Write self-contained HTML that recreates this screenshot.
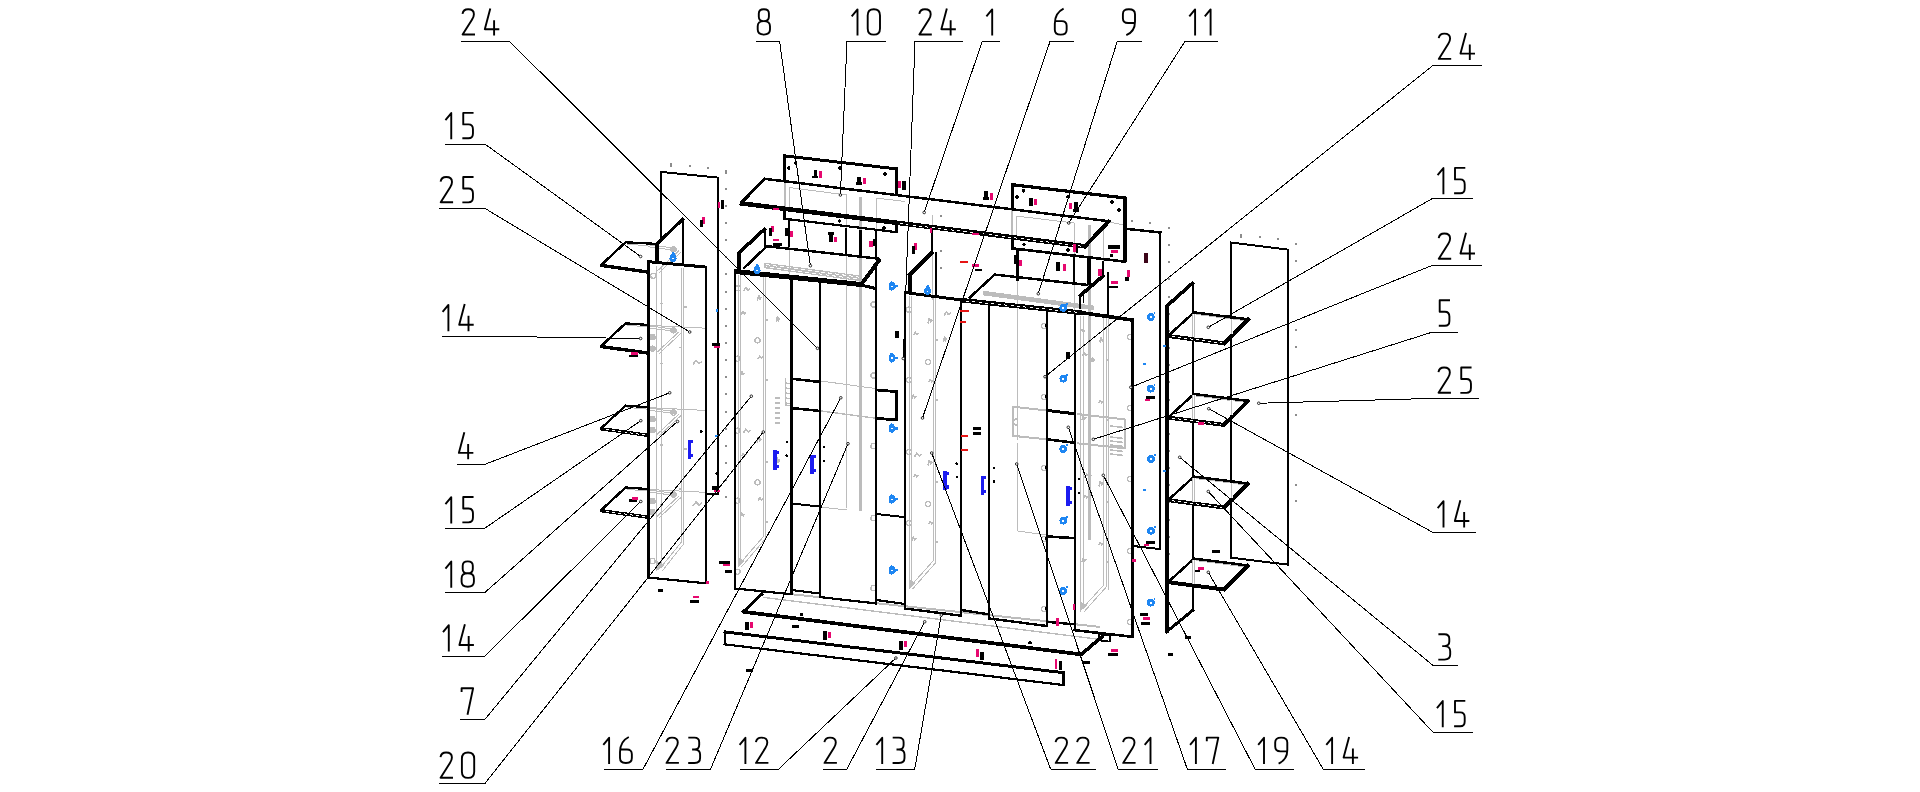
<!DOCTYPE html><html><head><meta charset="utf-8"><title>Exploded view</title>
<style>html,body{margin:0;padding:0;background:#fff;font-family:"Liberation Sans",sans-serif}svg{display:block}</style></head><body>
<svg width="1920" height="792" viewBox="0 0 1920 792" fill="none">
<rect width="1920" height="792" fill="#fff"/>
<g id="grey" shape-rendering="crispEdges">
<path d="M764,265.4L862,278.6" stroke="#bcbcbc" stroke-width="5.6" stroke-linecap="butt"/>
<path d="M766,264.6L862,277.5" stroke="#fff" stroke-width="1" stroke-linecap="butt" stroke-dasharray="4 3"/>
<path d="M766,266.8L862,279.7" stroke="#fff" stroke-width="1" stroke-linecap="butt" stroke-dasharray="4 3" stroke-dashoffset="3"/>
<path d="M983,293L1094,308" stroke="#bcbcbc" stroke-width="4.6" stroke-linecap="butt"/>
<path d="M860.4,197L860.4,511" stroke="#bcbcbc" stroke-width="3" stroke-linecap="butt"/>
<path d="M1089.6,225L1089.6,540" stroke="#bcbcbc" stroke-width="3" stroke-linecap="butt"/>
<path d="M846.7,195L846.7,508" stroke="#bcbcbc" stroke-width="1" stroke-linecap="butt"/>
<path d="M785,180L785,208" stroke="#bcbcbc" stroke-width="1.6" stroke-linecap="butt"/>
<path d="M789,187.5L846.7,195" stroke="#bcbcbc" stroke-width="1" stroke-linecap="butt"/>
<path d="M789,187.5L789,207" stroke="#bcbcbc" stroke-width="1" stroke-linecap="butt"/>
<path d="M876,198L876,232" stroke="#bcbcbc" stroke-width="1" stroke-linecap="butt"/>
<path d="M876,198L905,201.5" stroke="#bcbcbc" stroke-width="1" stroke-linecap="butt"/>
<path d="M1012.2,209L1012.2,237" stroke="#bcbcbc" stroke-width="1.6" stroke-linecap="butt"/>
<path d="M1016,216L1074,223" stroke="#bcbcbc" stroke-width="1" stroke-linecap="butt"/>
<path d="M1016,216L1016,236" stroke="#bcbcbc" stroke-width="1" stroke-linecap="butt"/>
<path d="M1074.2,223L1074.2,255" stroke="#bcbcbc" stroke-width="1" stroke-linecap="butt"/>
<path d="M1103.75,224L1103.75,261" stroke="#bcbcbc" stroke-width="1" stroke-linecap="butt"/>
<path d="M1108,222L1125,225" stroke="#bcbcbc" stroke-width="1" stroke-linecap="butt"/>
<path d="M932.5,215L932.5,300" stroke="#bcbcbc" stroke-width="1" stroke-linecap="butt"/>
<path d="M656.7,266L656.7,571" stroke="#bcbcbc" stroke-width="1" stroke-linecap="butt"/>
<path d="M661.2,266L661.2,568" stroke="#bcbcbc" stroke-width="1" stroke-linecap="butt"/>
<path d="M681.7,268L681.7,541.7" stroke="#bcbcbc" stroke-width="1" stroke-linecap="butt"/>
<path d="M683.8,268L683.8,543.7" stroke="#bcbcbc" stroke-width="1" stroke-linecap="butt"/>
<path d="M681.7,541.7L661.2,567" stroke="#bcbcbc" stroke-width="1" stroke-linecap="butt"/>
<path d="M683.8,543.7L662.2,571" stroke="#bcbcbc" stroke-width="1" stroke-linecap="butt"/>
<path d="M656.7,561L665.2,565L656.7,571Z" fill="#bcbcbc"/>
<path d="M738.3,275L738.3,567" stroke="#bcbcbc" stroke-width="1" stroke-linecap="butt"/>
<path d="M740.4,275L740.4,564" stroke="#bcbcbc" stroke-width="1" stroke-linecap="butt"/>
<path d="M763.3,277L763.3,536.7" stroke="#bcbcbc" stroke-width="1" stroke-linecap="butt"/>
<path d="M765.4,277L765.4,538.7" stroke="#bcbcbc" stroke-width="1" stroke-linecap="butt"/>
<path d="M763.3,536.7L740.4,563" stroke="#bcbcbc" stroke-width="1" stroke-linecap="butt"/>
<path d="M765.4,538.7L741.4,567" stroke="#bcbcbc" stroke-width="1" stroke-linecap="butt"/>
<path d="M738.3,557L744.4,561L738.3,567Z" fill="#bcbcbc"/>
<path d="M909.4,296L909.4,589" stroke="#bcbcbc" stroke-width="1" stroke-linecap="butt"/>
<path d="M911.6,296L911.6,586" stroke="#bcbcbc" stroke-width="1" stroke-linecap="butt"/>
<path d="M933,298L933,561" stroke="#bcbcbc" stroke-width="1" stroke-linecap="butt"/>
<path d="M935.4,298L935.4,563" stroke="#bcbcbc" stroke-width="1" stroke-linecap="butt"/>
<path d="M933,561L911.6,585" stroke="#bcbcbc" stroke-width="1" stroke-linecap="butt"/>
<path d="M935.4,563L912.6,589" stroke="#bcbcbc" stroke-width="1" stroke-linecap="butt"/>
<path d="M909.4,579L915.6,583L909.4,589Z" fill="#bcbcbc"/>
<path d="M1080,316L1080,611.5" stroke="#bcbcbc" stroke-width="1" stroke-linecap="butt"/>
<path d="M1083.3,316L1083.3,608.5" stroke="#bcbcbc" stroke-width="1" stroke-linecap="butt"/>
<path d="M1103.75,318L1103.75,585" stroke="#bcbcbc" stroke-width="1" stroke-linecap="butt"/>
<path d="M1106.25,318L1106.25,587" stroke="#bcbcbc" stroke-width="1" stroke-linecap="butt"/>
<path d="M1103.75,585L1083.3,607.5" stroke="#bcbcbc" stroke-width="1" stroke-linecap="butt"/>
<path d="M1106.25,587L1084.3,611.5" stroke="#bcbcbc" stroke-width="1" stroke-linecap="butt"/>
<path d="M1080,601.5L1087.3,605.5L1080,611.5Z" fill="#bcbcbc"/>
<path d="M1017.5,281L1017.5,440" stroke="#bcbcbc" stroke-width="1" stroke-linecap="butt"/>
<path d="M1012.5,406.7L1046,410.4" stroke="#bcbcbc" stroke-width="2" stroke-linecap="butt"/>
<path d="M1012.8,406L1012.8,436.6" stroke="#bcbcbc" stroke-width="2" stroke-linecap="butt"/>
<path d="M1012.5,435.8L1046,439.2" stroke="#bcbcbc" stroke-width="2" stroke-linecap="butt"/>
<path d="M1014,420L1018,418" stroke="#bcbcbc" stroke-width="1.4" stroke-linecap="butt"/>
<path d="M1014,424L1018,426" stroke="#bcbcbc" stroke-width="1.4" stroke-linecap="butt"/>
<path d="M1017.5,443L1017.5,531" stroke="#bcbcbc" stroke-width="1" stroke-linecap="butt"/>
<path d="M1017.5,531L1046,535" stroke="#bcbcbc" stroke-width="1" stroke-linecap="butt"/>
<path d="M820.5,507L846.7,510" stroke="#bcbcbc" stroke-width="1" stroke-linecap="butt"/>
<path d="M1077,414L1125,419.4" stroke="#bcbcbc" stroke-width="2" stroke-linecap="butt"/>
<path d="M1124.6,418.6L1124.6,449" stroke="#bcbcbc" stroke-width="2" stroke-linecap="butt"/>
<path d="M1077,443.3L1125,448.3" stroke="#bcbcbc" stroke-width="2" stroke-linecap="butt"/>
<path d="M763,591.2L1100,626.9" stroke="#bcbcbc" stroke-width="2" stroke-linecap="butt"/>
<path d="M763,597.3L1100,639.4" stroke="#bcbcbc" stroke-width="1.4" stroke-linecap="butt"/>
<circle cx="653.3" cy="275.8" r="2.6" stroke="#bcbcbc" stroke-width="1.3" fill="none"/>
<circle cx="652.5" cy="337" r="2.6" stroke="#bcbcbc" stroke-width="1.3" fill="none"/>
<circle cx="652.5" cy="348.7" r="2.6" stroke="#bcbcbc" stroke-width="1.3" fill="none"/>
<circle cx="652.5" cy="419" r="2.6" stroke="#bcbcbc" stroke-width="1.3" fill="none"/>
<circle cx="652.5" cy="430" r="2.6" stroke="#bcbcbc" stroke-width="1.3" fill="none"/>
<circle cx="652.5" cy="501" r="2.6" stroke="#bcbcbc" stroke-width="1.3" fill="none"/>
<circle cx="652.5" cy="512" r="2.6" stroke="#bcbcbc" stroke-width="1.3" fill="none"/>
<circle cx="652.5" cy="561" r="2.6" stroke="#bcbcbc" stroke-width="1.3" fill="none"/>
<circle cx="738" cy="288.3" r="2.6" stroke="#bcbcbc" stroke-width="1.3" fill="none"/>
<circle cx="737.5" cy="358.7" r="2.6" stroke="#bcbcbc" stroke-width="1.3" fill="none"/>
<circle cx="737.5" cy="430.7" r="2.6" stroke="#bcbcbc" stroke-width="1.3" fill="none"/>
<circle cx="737.5" cy="500.7" r="2.6" stroke="#bcbcbc" stroke-width="1.3" fill="none"/>
<circle cx="737.5" cy="571.8" r="2.6" stroke="#bcbcbc" stroke-width="1.3" fill="none"/>
<circle cx="757.5" cy="340.3" r="2.6" stroke="#bcbcbc" stroke-width="1.3" fill="none"/>
<circle cx="757.5" cy="482.3" r="2.6" stroke="#bcbcbc" stroke-width="1.3" fill="none"/>
<circle cx="873.5" cy="304.5" r="2.6" stroke="#bcbcbc" stroke-width="1.3" fill="none"/>
<circle cx="873.5" cy="375.5" r="2.6" stroke="#bcbcbc" stroke-width="1.3" fill="none"/>
<circle cx="873.5" cy="446" r="2.6" stroke="#bcbcbc" stroke-width="1.3" fill="none"/>
<circle cx="873.5" cy="518" r="2.6" stroke="#bcbcbc" stroke-width="1.3" fill="none"/>
<circle cx="873.5" cy="588" r="2.6" stroke="#bcbcbc" stroke-width="1.3" fill="none"/>
<circle cx="909" cy="309.5" r="2.6" stroke="#bcbcbc" stroke-width="1.3" fill="none"/>
<circle cx="909" cy="380" r="2.6" stroke="#bcbcbc" stroke-width="1.3" fill="none"/>
<circle cx="909" cy="452" r="2.6" stroke="#bcbcbc" stroke-width="1.3" fill="none"/>
<circle cx="909" cy="523" r="2.6" stroke="#bcbcbc" stroke-width="1.3" fill="none"/>
<circle cx="928" cy="362" r="2.6" stroke="#bcbcbc" stroke-width="1.3" fill="none"/>
<circle cx="928" cy="504" r="2.6" stroke="#bcbcbc" stroke-width="1.3" fill="none"/>
<circle cx="1044" cy="326" r="2.6" stroke="#bcbcbc" stroke-width="1.3" fill="none"/>
<circle cx="1044" cy="397" r="2.6" stroke="#bcbcbc" stroke-width="1.3" fill="none"/>
<circle cx="1044" cy="468" r="2.6" stroke="#bcbcbc" stroke-width="1.3" fill="none"/>
<circle cx="1044" cy="539" r="2.6" stroke="#bcbcbc" stroke-width="1.3" fill="none"/>
<circle cx="1044" cy="609" r="2.6" stroke="#bcbcbc" stroke-width="1.3" fill="none"/>
<circle cx="1130" cy="337" r="2.6" stroke="#bcbcbc" stroke-width="1.3" fill="none"/>
<circle cx="1130" cy="408" r="2.6" stroke="#bcbcbc" stroke-width="1.3" fill="none"/>
<circle cx="1130" cy="479" r="2.6" stroke="#bcbcbc" stroke-width="1.3" fill="none"/>
<circle cx="1130" cy="551" r="2.6" stroke="#bcbcbc" stroke-width="1.3" fill="none"/>
<circle cx="1130" cy="622" r="2.6" stroke="#bcbcbc" stroke-width="1.3" fill="none"/>
<path d="M648,244.7L677,248.5" stroke="#bcbcbc" stroke-width="1" stroke-linecap="butt"/>
<path d="M648,246.7L676,250.5" stroke="#bcbcbc" stroke-width="1" stroke-linecap="butt"/>
<path d="M679,250.7L657,271.2" stroke="#bcbcbc" stroke-width="1" stroke-linecap="butt"/>
<path d="M681,252.2L659,272.7" stroke="#bcbcbc" stroke-width="1" stroke-linecap="butt"/>
<circle cx="673.5" cy="249.3" r="2.6" stroke="#bcbcbc" stroke-width="1.3" fill="none"/>
<path d="M627,244.1L648,245.9" stroke="#bcbcbc" stroke-width="1" stroke-linecap="butt"/>
<path d="M648,325.75L677,329.55" stroke="#bcbcbc" stroke-width="1" stroke-linecap="butt"/>
<path d="M648,327.75L676,331.55" stroke="#bcbcbc" stroke-width="1" stroke-linecap="butt"/>
<path d="M679,331.75L657,352.25" stroke="#bcbcbc" stroke-width="1" stroke-linecap="butt"/>
<path d="M681,333.25L659,353.75" stroke="#bcbcbc" stroke-width="1" stroke-linecap="butt"/>
<circle cx="673.5" cy="330.35" r="2.6" stroke="#bcbcbc" stroke-width="1.3" fill="none"/>
<path d="M627,325.15L648,326.95" stroke="#bcbcbc" stroke-width="1" stroke-linecap="butt"/>
<path d="M648,408L677,411.8" stroke="#bcbcbc" stroke-width="1" stroke-linecap="butt"/>
<path d="M648,410L676,413.8" stroke="#bcbcbc" stroke-width="1" stroke-linecap="butt"/>
<path d="M679,414L657,434.5" stroke="#bcbcbc" stroke-width="1" stroke-linecap="butt"/>
<path d="M681,415.5L659,436" stroke="#bcbcbc" stroke-width="1" stroke-linecap="butt"/>
<circle cx="673.5" cy="412.6" r="2.6" stroke="#bcbcbc" stroke-width="1.3" fill="none"/>
<path d="M627,407.4L648,409.2" stroke="#bcbcbc" stroke-width="1" stroke-linecap="butt"/>
<path d="M648,489.9L677,493.7" stroke="#bcbcbc" stroke-width="1" stroke-linecap="butt"/>
<path d="M648,491.9L676,495.7" stroke="#bcbcbc" stroke-width="1" stroke-linecap="butt"/>
<path d="M679,495.9L657,516.4" stroke="#bcbcbc" stroke-width="1" stroke-linecap="butt"/>
<path d="M681,497.4L659,517.9" stroke="#bcbcbc" stroke-width="1" stroke-linecap="butt"/>
<circle cx="673.5" cy="494.5" r="2.6" stroke="#bcbcbc" stroke-width="1.3" fill="none"/>
<path d="M627,489.3L648,491.1" stroke="#bcbcbc" stroke-width="1" stroke-linecap="butt"/>
<path d="M1196,314.4L1246,320.8" stroke="#bcbcbc" stroke-width="1" stroke-linecap="butt"/>
<path d="M1196,396L1246,402.4" stroke="#bcbcbc" stroke-width="1" stroke-linecap="butt"/>
<path d="M1196,478.6L1246,485" stroke="#bcbcbc" stroke-width="1" stroke-linecap="butt"/>
<path d="M1196,560.6L1246,567" stroke="#bcbcbc" stroke-width="1" stroke-linecap="butt"/>
<rect x="724.8" y="170.5" width="2" height="2" fill="#8c8c8c"/>
<rect x="724.8" y="187.65" width="2" height="2" fill="#8c8c8c"/>
<rect x="724.8" y="204.8" width="2" height="2" fill="#8c8c8c"/>
<rect x="724.8" y="221.95" width="2" height="2" fill="#8c8c8c"/>
<rect x="724.8" y="239.1" width="2" height="2" fill="#8c8c8c"/>
<rect x="724.8" y="256.25" width="2" height="2" fill="#8c8c8c"/>
<rect x="724.8" y="273.4" width="2" height="2" fill="#8c8c8c"/>
<rect x="724.8" y="290.55" width="2" height="2" fill="#8c8c8c"/>
<rect x="724.8" y="307.7" width="2" height="2" fill="#8c8c8c"/>
<rect x="724.8" y="324.85" width="2" height="2" fill="#8c8c8c"/>
<rect x="724.8" y="342" width="2" height="2" fill="#8c8c8c"/>
<rect x="724.8" y="359.15" width="2" height="2" fill="#8c8c8c"/>
<rect x="724.8" y="376.3" width="2" height="2" fill="#8c8c8c"/>
<rect x="724.8" y="393.45" width="2" height="2" fill="#8c8c8c"/>
<rect x="724.8" y="410.6" width="2" height="2" fill="#8c8c8c"/>
<rect x="724.8" y="427.75" width="2" height="2" fill="#8c8c8c"/>
<rect x="724.8" y="444.9" width="2" height="2" fill="#8c8c8c"/>
<rect x="724.8" y="462.05" width="2" height="2" fill="#8c8c8c"/>
<rect x="724.8" y="479.2" width="2" height="2" fill="#8c8c8c"/>
<rect x="724.8" y="496.35" width="2" height="2" fill="#8c8c8c"/>
<rect x="724.8" y="170.5" width="2" height="2" fill="#8c8c8c"/>
<rect x="724.9" y="169.5" width="2" height="4" fill="#8c8c8c"/>
<rect x="669.8" y="163.5" width="2" height="2" fill="#8c8c8c"/>
<rect x="689" y="165.3" width="2" height="2" fill="#8c8c8c"/>
<rect x="707" y="167" width="2" height="2" fill="#8c8c8c"/>
<rect x="669.8" y="163" width="2" height="4" fill="#8c8c8c"/>
<rect x="1168" y="227" width="2" height="2" fill="#8c8c8c"/>
<rect x="1168" y="244.15" width="2" height="2" fill="#8c8c8c"/>
<rect x="1168" y="261.3" width="2" height="2" fill="#8c8c8c"/>
<rect x="1168" y="278.45" width="2" height="2" fill="#8c8c8c"/>
<rect x="1168" y="295.6" width="2" height="2" fill="#8c8c8c"/>
<rect x="1168" y="312.75" width="2" height="2" fill="#8c8c8c"/>
<rect x="1168" y="329.9" width="2" height="2" fill="#8c8c8c"/>
<rect x="1168" y="347.05" width="2" height="2" fill="#8c8c8c"/>
<rect x="1168" y="364.2" width="2" height="2" fill="#8c8c8c"/>
<rect x="1168" y="381.35" width="2" height="2" fill="#8c8c8c"/>
<rect x="1168" y="398.5" width="2" height="2" fill="#8c8c8c"/>
<rect x="1168" y="415.65" width="2" height="2" fill="#8c8c8c"/>
<rect x="1168" y="432.8" width="2" height="2" fill="#8c8c8c"/>
<rect x="1168" y="449.95" width="2" height="2" fill="#8c8c8c"/>
<rect x="1168" y="467.1" width="2" height="2" fill="#8c8c8c"/>
<rect x="1168" y="484.25" width="2" height="2" fill="#8c8c8c"/>
<rect x="1168" y="501.4" width="2" height="2" fill="#8c8c8c"/>
<rect x="1168" y="518.55" width="2" height="2" fill="#8c8c8c"/>
<rect x="1168" y="535.7" width="2" height="2" fill="#8c8c8c"/>
<rect x="1168" y="552.85" width="2" height="2" fill="#8c8c8c"/>
<rect x="1131" y="219.8" width="2" height="2" fill="#8c8c8c"/>
<rect x="1149" y="222" width="2" height="2" fill="#8c8c8c"/>
<rect x="1168" y="227" width="2" height="2" fill="#8c8c8c"/>
<rect x="1295.2" y="243" width="2" height="2" fill="#8c8c8c"/>
<rect x="1295.2" y="260" width="2" height="2" fill="#8c8c8c"/>
<rect x="1295.2" y="328.5" width="2" height="2" fill="#8c8c8c"/>
<rect x="1295.2" y="345.7" width="2" height="2" fill="#8c8c8c"/>
<rect x="1295.2" y="414" width="2" height="2" fill="#8c8c8c"/>
<rect x="1295.2" y="483.5" width="2" height="2" fill="#8c8c8c"/>
<rect x="1295.2" y="500" width="2" height="2" fill="#8c8c8c"/>
<rect x="1295.2" y="552" width="2" height="2" fill="#8c8c8c"/>
<rect x="1240" y="235" width="2" height="2" fill="#8c8c8c"/>
<rect x="1259" y="236" width="2" height="2" fill="#8c8c8c"/>
<rect x="1277" y="238" width="2" height="2" fill="#8c8c8c"/>
<rect x="1295" y="243" width="2" height="2" fill="#8c8c8c"/>
<rect x="1240" y="234" width="2" height="4" fill="#8c8c8c"/>
<rect x="939.8" y="215.3" width="2" height="2" fill="#8c8c8c"/>
<rect x="939.8" y="249.8" width="2" height="2" fill="#8c8c8c"/>
<rect x="939.8" y="267" width="2" height="2" fill="#8c8c8c"/>
<path d="M743.4,291.4L745.73,287.4L748.07,290.4L750.4,288.4" stroke="#bcbcbc" stroke-width="1.6" fill="none" stroke-linejoin="round" stroke-linecap="butt"/>
<path d="M757.4,300.5L758.73,295.5L760.07,299.25L761.4,296.75" stroke="#bcbcbc" stroke-width="1.6" fill="none" stroke-linejoin="round" stroke-linecap="butt"/>
<path d="M741.2,314.5L742.87,311.5L744.53,313.75L746.2,312.25" stroke="#bcbcbc" stroke-width="1.6" fill="none" stroke-linejoin="round" stroke-linecap="butt"/>
<path d="M776.5,322.4L777.5,316.4L778.5,320.9L779.5,317.9" stroke="#bcbcbc" stroke-width="1.6" fill="none" stroke-linejoin="round" stroke-linecap="butt"/>
<path d="M758.1,359L759.77,356L761.43,358.25L763.1,356.75" stroke="#bcbcbc" stroke-width="1.6" fill="none" stroke-linejoin="round" stroke-linecap="butt"/>
<path d="M740.5,375.7L741.83,371.7L743.17,374.7L744.5,372.7" stroke="#bcbcbc" stroke-width="1.6" fill="none" stroke-linejoin="round" stroke-linecap="butt"/>
<path d="M693,364.5L696,360.5L699,363.5L702,361.5" stroke="#bcbcbc" stroke-width="1.6" fill="none" stroke-linejoin="round" stroke-linecap="butt"/>
<path d="M743.5,433L745.83,429L748.17,432L750.5,430" stroke="#bcbcbc" stroke-width="1.6" fill="none" stroke-linejoin="round" stroke-linecap="butt"/>
<path d="M757,442.5L758.33,437.5L759.67,441.25L761,438.75" stroke="#bcbcbc" stroke-width="1.6" fill="none" stroke-linejoin="round" stroke-linecap="butt"/>
<path d="M741.5,456.5L743.17,453.5L744.83,455.75L746.5,454.25" stroke="#bcbcbc" stroke-width="1.6" fill="none" stroke-linejoin="round" stroke-linecap="butt"/>
<path d="M776.5,464L777.5,458L778.5,462.5L779.5,459.5" stroke="#bcbcbc" stroke-width="1.6" fill="none" stroke-linejoin="round" stroke-linecap="butt"/>
<path d="M758.1,500.5L759.77,497.5L761.43,499.75L763.1,498.25" stroke="#bcbcbc" stroke-width="1.6" fill="none" stroke-linejoin="round" stroke-linecap="butt"/>
<path d="M740.5,517L741.83,513L743.17,516L744.5,514" stroke="#bcbcbc" stroke-width="1.6" fill="none" stroke-linejoin="round" stroke-linecap="butt"/>
<path d="M693,506L696,502L699,505L702,503" stroke="#bcbcbc" stroke-width="1.6" fill="none" stroke-linejoin="round" stroke-linecap="butt"/>
<path d="M944,315.7L946.33,311.7L948.67,314.7L951,312.7" stroke="#bcbcbc" stroke-width="1.6" fill="none" stroke-linejoin="round" stroke-linecap="butt"/>
<path d="M928,323.5L929.33,318.5L930.67,322.25L932,319.75" stroke="#bcbcbc" stroke-width="1.6" fill="none" stroke-linejoin="round" stroke-linecap="butt"/>
<path d="M913.5,335.2L915.17,332.2L916.83,334.45L918.5,332.95" stroke="#bcbcbc" stroke-width="1.6" fill="none" stroke-linejoin="round" stroke-linecap="butt"/>
<path d="M943.5,342.5L944.5,336.5L945.5,341L946.5,338" stroke="#bcbcbc" stroke-width="1.6" fill="none" stroke-linejoin="round" stroke-linecap="butt"/>
<path d="M928.5,382.5L930.17,379.5L931.83,381.75L933.5,380.25" stroke="#bcbcbc" stroke-width="1.6" fill="none" stroke-linejoin="round" stroke-linecap="butt"/>
<path d="M912,399L913.33,395L914.67,398L916,396" stroke="#bcbcbc" stroke-width="1.6" fill="none" stroke-linejoin="round" stroke-linecap="butt"/>
<path d="M914.5,457L916.83,453L919.17,456L921.5,454" stroke="#bcbcbc" stroke-width="1.6" fill="none" stroke-linejoin="round" stroke-linecap="butt"/>
<path d="M928,465.5L929.33,460.5L930.67,464.25L932,461.75" stroke="#bcbcbc" stroke-width="1.6" fill="none" stroke-linejoin="round" stroke-linecap="butt"/>
<path d="M913.5,477.5L915.17,474.5L916.83,476.75L918.5,475.25" stroke="#bcbcbc" stroke-width="1.6" fill="none" stroke-linejoin="round" stroke-linecap="butt"/>
<path d="M943.5,485L944.5,479L945.5,483.5L946.5,480.5" stroke="#bcbcbc" stroke-width="1.6" fill="none" stroke-linejoin="round" stroke-linecap="butt"/>
<path d="M928.5,524.5L930.17,521.5L931.83,523.75L933.5,522.25" stroke="#bcbcbc" stroke-width="1.6" fill="none" stroke-linejoin="round" stroke-linecap="butt"/>
<path d="M912,541L913.33,537L914.67,540L916,538" stroke="#bcbcbc" stroke-width="1.6" fill="none" stroke-linejoin="round" stroke-linecap="butt"/>
<path d="M1080,332.5L1081.67,329.5L1083.33,331.75L1085,330.25" stroke="#bcbcbc" stroke-width="1.6" fill="none" stroke-linejoin="round" stroke-linecap="butt"/>
<path d="M1099.7,342.5L1101.03,337.5L1102.37,341.25L1103.7,338.75" stroke="#bcbcbc" stroke-width="1.6" fill="none" stroke-linejoin="round" stroke-linecap="butt"/>
<path d="M1082.5,356L1084.17,353L1085.83,355.25L1087.5,353.75" stroke="#bcbcbc" stroke-width="1.6" fill="none" stroke-linejoin="round" stroke-linecap="butt"/>
<path d="M1091.5,362.5L1092.5,357.5L1093.5,361.25L1094.5,358.75" stroke="#bcbcbc" stroke-width="1.6" fill="none" stroke-linejoin="round" stroke-linecap="butt"/>
<path d="M1098.5,403.5L1100.17,400.5L1101.83,402.75L1103.5,401.25" stroke="#bcbcbc" stroke-width="1.6" fill="none" stroke-linejoin="round" stroke-linecap="butt"/>
<path d="M1082,420L1083.33,416L1084.67,419L1086,417" stroke="#bcbcbc" stroke-width="1.6" fill="none" stroke-linejoin="round" stroke-linecap="butt"/>
<path d="M1084.5,478L1086.83,474L1089.17,477L1091.5,475" stroke="#bcbcbc" stroke-width="1.6" fill="none" stroke-linejoin="round" stroke-linecap="butt"/>
<path d="M1099,486.5L1100.33,481.5L1101.67,485.25L1103,482.75" stroke="#bcbcbc" stroke-width="1.6" fill="none" stroke-linejoin="round" stroke-linecap="butt"/>
<path d="M1083.5,498.5L1085.17,495.5L1086.83,497.75L1088.5,496.25" stroke="#bcbcbc" stroke-width="1.6" fill="none" stroke-linejoin="round" stroke-linecap="butt"/>
<path d="M1098.5,545.5L1100.17,542.5L1101.83,544.75L1103.5,543.25" stroke="#bcbcbc" stroke-width="1.6" fill="none" stroke-linejoin="round" stroke-linecap="butt"/>
<path d="M1082,562L1083.33,558L1084.67,561L1086,559" stroke="#bcbcbc" stroke-width="1.6" fill="none" stroke-linejoin="round" stroke-linecap="butt"/>
<path d="M683.7,306.9L686.7,306.9" stroke="#bcbcbc" stroke-width="1.4" stroke-linecap="butt"/>
<path d="M679.4,347.5L682.4,347.5" stroke="#bcbcbc" stroke-width="1.4" stroke-linecap="butt"/>
<path d="M660,303.7L663,303.7" stroke="#bcbcbc" stroke-width="1.4" stroke-linecap="butt"/>
<path d="M660,363.7L663,363.7" stroke="#bcbcbc" stroke-width="1.4" stroke-linecap="butt"/>
<path d="M683.7,449L686.7,449" stroke="#bcbcbc" stroke-width="1.4" stroke-linecap="butt"/>
<path d="M679.4,489L682.4,489" stroke="#bcbcbc" stroke-width="1.4" stroke-linecap="butt"/>
<path d="M660,445L663,445" stroke="#bcbcbc" stroke-width="1.4" stroke-linecap="butt"/>
<path d="M660,505L663,505" stroke="#bcbcbc" stroke-width="1.4" stroke-linecap="butt"/>
<path d="M765,320L768,320" stroke="#bcbcbc" stroke-width="1.4" stroke-linecap="butt"/>
<path d="M765,380L768,380" stroke="#bcbcbc" stroke-width="1.4" stroke-linecap="butt"/>
<path d="M765,462L768,462" stroke="#bcbcbc" stroke-width="1.4" stroke-linecap="butt"/>
<path d="M765,522L768,522" stroke="#bcbcbc" stroke-width="1.4" stroke-linecap="butt"/>
<path d="M935,340L938,340" stroke="#bcbcbc" stroke-width="1.4" stroke-linecap="butt"/>
<path d="M935,400L938,400" stroke="#bcbcbc" stroke-width="1.4" stroke-linecap="butt"/>
<path d="M935,482L938,482" stroke="#bcbcbc" stroke-width="1.4" stroke-linecap="butt"/>
<path d="M935,542L938,542" stroke="#bcbcbc" stroke-width="1.4" stroke-linecap="butt"/>
<path d="M1106,360L1109,360" stroke="#bcbcbc" stroke-width="1.4" stroke-linecap="butt"/>
<path d="M1106,420L1109,420" stroke="#bcbcbc" stroke-width="1.4" stroke-linecap="butt"/>
<path d="M1106,502L1109,502" stroke="#bcbcbc" stroke-width="1.4" stroke-linecap="butt"/>
<path d="M1106,562L1109,562" stroke="#bcbcbc" stroke-width="1.4" stroke-linecap="butt"/>
<circle cx="652.5" cy="337" r="2.2" fill="#bcbcbc"/>
<circle cx="652.5" cy="348.7" r="2.2" fill="#bcbcbc"/>
<circle cx="673.7" cy="330" r="2.2" fill="#bcbcbc"/>
<circle cx="652.5" cy="419" r="2.2" fill="#bcbcbc"/>
<circle cx="652.5" cy="430" r="2.2" fill="#bcbcbc"/>
<circle cx="673.7" cy="412" r="2.2" fill="#bcbcbc"/>
<circle cx="652.5" cy="501" r="2.2" fill="#bcbcbc"/>
<circle cx="652.5" cy="512" r="2.2" fill="#bcbcbc"/>
<circle cx="673.7" cy="494" r="2.2" fill="#bcbcbc"/>
<circle cx="673.7" cy="249.5" r="2.2" fill="#bcbcbc"/>
<path d="M785.5,378L785.5,405L791,405.6" stroke="#bcbcbc" stroke-width="1.4" fill="none" stroke-linejoin="miter" stroke-linecap="butt"/>
<path d="M785.5,383L790.5,383.5" stroke="#bcbcbc" stroke-width="1.2" stroke-linecap="butt"/>
<path d="M785.5,388L790.5,388.5" stroke="#bcbcbc" stroke-width="1.2" stroke-linecap="butt"/>
<path d="M785.5,393L790.5,393.5" stroke="#bcbcbc" stroke-width="1.2" stroke-linecap="butt"/>
<path d="M785.5,398L790.5,398.5" stroke="#bcbcbc" stroke-width="1.2" stroke-linecap="butt"/>
<path d="M785.5,403L790.5,403.5" stroke="#bcbcbc" stroke-width="1.2" stroke-linecap="butt"/>
<path d="M775,398L780,398" stroke="#bcbcbc" stroke-width="1.4" stroke-linecap="butt"/>
<path d="M775,403L780,403" stroke="#bcbcbc" stroke-width="1.4" stroke-linecap="butt"/>
<path d="M775,408L780,408" stroke="#bcbcbc" stroke-width="1.4" stroke-linecap="butt"/>
<path d="M775,413L780,413" stroke="#bcbcbc" stroke-width="1.4" stroke-linecap="butt"/>
<path d="M775,418L780,418" stroke="#bcbcbc" stroke-width="1.4" stroke-linecap="butt"/>
<path d="M775,423L780,423" stroke="#bcbcbc" stroke-width="1.4" stroke-linecap="butt"/>
<path d="M821,381L876.7,388.7" stroke="#bcbcbc" stroke-width="1" stroke-linecap="butt"/>
<path d="M821,411L876.3,418.3" stroke="#bcbcbc" stroke-width="1.4" stroke-linecap="butt"/>
<path d="M1108.5,316L1108.5,590" stroke="#bcbcbc" stroke-width="1" stroke-linecap="butt"/>
<path d="M1110,426L1123,427.4" stroke="#bcbcbc" stroke-width="1.6" stroke-linecap="butt"/>
<path d="M1110,437L1123,438.4" stroke="#bcbcbc" stroke-width="1.6" stroke-linecap="butt"/>
<path d="M1110,441L1123,442.4" stroke="#bcbcbc" stroke-width="1.6" stroke-linecap="butt"/>
<path d="M1110,445L1123,446.4" stroke="#bcbcbc" stroke-width="1.6" stroke-linecap="butt"/>
<path d="M1110,450L1123,451.4" stroke="#bcbcbc" stroke-width="1.6" stroke-linecap="butt"/>
<path d="M1110,454L1123,455.4" stroke="#bcbcbc" stroke-width="1.6" stroke-linecap="butt"/>
<path d="M649,325.35L705,328.15" stroke="#bcbcbc" stroke-width="1" stroke-linecap="butt"/>
<path d="M649,407.6L705,410.4" stroke="#bcbcbc" stroke-width="1" stroke-linecap="butt"/>
<path d="M649,489.5L705,492.3" stroke="#bcbcbc" stroke-width="1" stroke-linecap="butt"/>
<path d="M789,247L789,278" stroke="#bcbcbc" stroke-width="1" stroke-linecap="butt"/>
<path d="M1074.2,285L1074.2,312" stroke="#bcbcbc" stroke-width="1" stroke-linecap="butt"/>
</g><g id="black" shape-rendering="crispEdges">
<path d="M625.5,242.3L657,243.9" stroke="#000" stroke-width="2.3" stroke-linecap="butt"/>
<path d="M626.2,241.7L600.4,265.7" stroke="#000" stroke-width="2.4" stroke-linecap="butt"/>
<path d="M600,265.3L648.5,272.1" stroke="#000" stroke-width="3.4" stroke-linecap="butt"/>
<path d="M625.5,323.35L648,324.95" stroke="#000" stroke-width="2.3" stroke-linecap="butt"/>
<path d="M626.2,322.75L600.4,346.75" stroke="#000" stroke-width="2.4" stroke-linecap="butt"/>
<path d="M600,346.35L648.5,353.15" stroke="#000" stroke-width="3.4" stroke-linecap="butt"/>
<path d="M625.5,405.6L648,407.2" stroke="#000" stroke-width="2.3" stroke-linecap="butt"/>
<path d="M626.2,405L600.4,429" stroke="#000" stroke-width="2.4" stroke-linecap="butt"/>
<path d="M600,428.6L648.5,435.4" stroke="#000" stroke-width="3.4" stroke-linecap="butt"/>
<path d="M606,429.5L647,435.2" stroke="#fff" stroke-width="1" stroke-linecap="butt" stroke-dasharray="3 3"/>
<path d="M625.5,487.5L648,489.1" stroke="#000" stroke-width="2.3" stroke-linecap="butt"/>
<path d="M626.2,486.9L600.4,510.9" stroke="#000" stroke-width="2.4" stroke-linecap="butt"/>
<path d="M600,510.5L648.5,517.3" stroke="#000" stroke-width="3.4" stroke-linecap="butt"/>
<path d="M606,511.4L647,517.1" stroke="#fff" stroke-width="1" stroke-linecap="butt" stroke-dasharray="3 3"/>
<path d="M656,245L683.6,218.3" stroke="#000" stroke-width="3.3" stroke-linecap="butt"/>
<path d="M683,218.5L683,263.5" stroke="#000" stroke-width="1.8" stroke-linecap="butt"/>
<path d="M657,243.5L657,263" stroke="#000" stroke-width="3.6" stroke-linecap="butt"/>
<path d="M648.4,260.5L648.4,578" stroke="#000" stroke-width="2.4" stroke-linecap="butt"/>
<path d="M647.2,261.6L707.3,267.2" stroke="#000" stroke-width="3" stroke-linecap="butt"/>
<path d="M706,266L706,584.2" stroke="#000" stroke-width="2.6" stroke-linecap="butt"/>
<path d="M647.2,577.4L707.3,583.4" stroke="#000" stroke-width="2.2" stroke-linecap="butt"/>
<path d="M660.8,239L660.8,171.9L718.3,177.6L718.3,493.7L704.8,493.7" stroke="#000" stroke-width="2" fill="none" stroke-linejoin="miter" stroke-linecap="butt"/>
<path d="M739.2,251.5L739.2,272" stroke="#000" stroke-width="3.6" stroke-linecap="butt"/>
<path d="M738.4,253.3L765.6,228.2" stroke="#000" stroke-width="3.6" stroke-linecap="butt"/>
<path d="M765,228.5L765,246.5" stroke="#000" stroke-width="2" stroke-linecap="butt"/>
<path d="M765.5,246.1L879.5,258.8" stroke="#000" stroke-width="2.5" stroke-linecap="butt"/>
<path d="M767,246L743.5,268.6" stroke="#000" stroke-width="2.5" stroke-linecap="butt"/>
<path d="M733.8,271.3L862,284.6" stroke="#000" stroke-width="5" stroke-linecap="butt"/>
<path d="M860.6,285.4L880,259" stroke="#000" stroke-width="4" stroke-linecap="butt"/>
<path d="M861,285L877,288.8" stroke="#000" stroke-width="3" stroke-linecap="butt"/>
<path d="M735,271L735,589" stroke="#000" stroke-width="2.2" stroke-linecap="butt"/>
<path d="M791.4,277L791.4,595" stroke="#000" stroke-width="2.9" stroke-linecap="butt"/>
<path d="M734,588.4L792.8,594.4" stroke="#000" stroke-width="2.2" stroke-linecap="butt"/>
<path d="M820.3,281.5L820.3,597.5" stroke="#000" stroke-width="1.9" stroke-linecap="butt"/>
<path d="M791.4,590L820.3,593.6" stroke="#000" stroke-width="2" stroke-linecap="butt"/>
<path d="M791.4,378.7L820.3,382" stroke="#000" stroke-width="2.6" stroke-linecap="butt"/>
<path d="M791.4,408L820.3,411" stroke="#000" stroke-width="2.6" stroke-linecap="butt"/>
<path d="M791.4,503.5L820.3,506.6" stroke="#000" stroke-width="2" stroke-linecap="butt"/>
<path d="M819.4,597L877.2,603.6" stroke="#000" stroke-width="2.2" stroke-linecap="butt"/>
<path d="M876.3,267L876.3,604" stroke="#000" stroke-width="1.8" stroke-linecap="butt"/>
<path d="M876.3,390L896.8,391.6L896.8,420L876.3,418.3" stroke="#000" stroke-width="2.8" fill="none" stroke-linejoin="miter" stroke-linecap="butt"/>
<path d="M876.3,514L905,517.2" stroke="#000" stroke-width="2" stroke-linecap="butt"/>
<path d="M876.3,600L905,604" stroke="#000" stroke-width="2.2" stroke-linecap="butt"/>
<path d="M905,291.2L905,609" stroke="#000" stroke-width="2.6" stroke-linecap="butt"/>
<path d="M903.7,292.3L962,300.1" stroke="#000" stroke-width="3" stroke-linecap="butt"/>
<path d="M961,299.5L961,616.6" stroke="#000" stroke-width="2" stroke-linecap="butt"/>
<path d="M903.7,608.4L962,615.8" stroke="#000" stroke-width="2.4" stroke-linecap="butt"/>
<path d="M910,274.5L910,293" stroke="#000" stroke-width="4" stroke-linecap="butt"/>
<path d="M908.6,276.2L933,251.5" stroke="#000" stroke-width="4" stroke-linecap="butt"/>
<path d="M932,230L932,253" stroke="#000" stroke-width="2.5" stroke-linecap="butt"/>
<path d="M935.8,252L935.8,296" stroke="#000" stroke-width="1.8" stroke-linecap="butt"/>
<path d="M961,610L989,614.4" stroke="#000" stroke-width="2.4" stroke-linecap="butt"/>
<path d="M989,302.5L989,619.5" stroke="#000" stroke-width="2.6" stroke-linecap="butt"/>
<path d="M989,618.4L1046.7,626" stroke="#000" stroke-width="2.4" stroke-linecap="butt"/>
<path d="M1046.7,310L1046.7,627" stroke="#000" stroke-width="2.1" stroke-linecap="butt"/>
<path d="M1045.7,410.3L1076,413.9" stroke="#000" stroke-width="3" stroke-linecap="butt"/>
<path d="M1045.7,439.2L1076,443" stroke="#000" stroke-width="2.6" stroke-linecap="butt"/>
<path d="M1045.7,536.4L1076,538.2" stroke="#000" stroke-width="2.6" stroke-linecap="butt"/>
<path d="M1046.7,621.8L1075,624.4" stroke="#000" stroke-width="2.4" stroke-linecap="butt"/>
<path d="M1075,312.8L1075,631" stroke="#000" stroke-width="2.8" stroke-linecap="butt"/>
<path d="M1073.3,630L1134.2,637" stroke="#000" stroke-width="2.6" stroke-linecap="butt"/>
<path d="M1132.5,319L1132.5,638" stroke="#000" stroke-width="3.6" stroke-linecap="butt"/>
<path d="M961,300.2L1082,312.8" stroke="#000" stroke-width="4.6" stroke-linecap="butt"/>
<path d="M1081,312.6L1134.2,320.3" stroke="#000" stroke-width="3.6" stroke-linecap="butt"/>
<path d="M966,301.1L1080,312.5" stroke="#fff" stroke-width="1" stroke-linecap="butt" stroke-dasharray="3 3.4"/>
<path d="M968.6,298.6L995.2,274.1" stroke="#000" stroke-width="2.5" stroke-linecap="butt"/>
<path d="M994,274.5L1088,285" stroke="#000" stroke-width="2.5" stroke-linecap="butt"/>
<path d="M1104.2,275L1079,296.6" stroke="#000" stroke-width="3.6" stroke-linecap="butt"/>
<path d="M1079.8,294.5L1079.8,309" stroke="#000" stroke-width="2.4" stroke-linecap="butt"/>
<path d="M1083.4,293.5L1083.4,303" stroke="#000" stroke-width="1.6" stroke-linecap="butt"/>
<path d="M1017.5,249.5L1017.5,281" stroke="#000" stroke-width="2.5" stroke-linecap="butt"/>
<path d="M1074.2,255L1074.2,285" stroke="#000" stroke-width="2" stroke-linecap="butt"/>
<path d="M1089.2,257.5L1089.2,285" stroke="#000" stroke-width="4" stroke-linecap="butt"/>
<path d="M1103.3,261L1103.3,276" stroke="#000" stroke-width="2" stroke-linecap="butt"/>
<path d="M1108,271.5L1108,317.5" stroke="#000" stroke-width="2.5" stroke-linecap="butt"/>
<path d="M1124,228.6L1161.6,232.6" stroke="#000" stroke-width="2.5" stroke-linecap="butt"/>
<path d="M1160.4,232L1160.4,550" stroke="#000" stroke-width="2" stroke-linecap="butt"/>
<path d="M1133,546L1161.4,549.2" stroke="#000" stroke-width="2" stroke-linecap="butt"/>
<path d="M1166.9,305L1166.9,632.6" stroke="#000" stroke-width="4" stroke-linecap="butt"/>
<path d="M1165.6,307.2L1193.8,282" stroke="#000" stroke-width="3.6" stroke-linecap="butt"/>
<path d="M1193,282.4L1193,611" stroke="#000" stroke-width="2" stroke-linecap="butt"/>
<path d="M1165.6,632.6L1193.8,609.4" stroke="#000" stroke-width="3" stroke-linecap="butt"/>
<path d="M1192.5,312.2L1249,319.4" stroke="#000" stroke-width="2.5" stroke-linecap="butt"/>
<path d="M1194,312.4L1168,336" stroke="#000" stroke-width="2.5" stroke-linecap="butt"/>
<path d="M1166,335.7L1225,343.4" stroke="#000" stroke-width="4" stroke-linecap="butt"/>
<path d="M1172,336.5L1222,343" stroke="#fff" stroke-width="1" stroke-linecap="butt" stroke-dasharray="3 3"/>
<path d="M1222.8,344.4L1249.3,318.2" stroke="#000" stroke-width="4" stroke-linecap="butt"/>
<path d="M1192.5,393.8L1249,401" stroke="#000" stroke-width="2.5" stroke-linecap="butt"/>
<path d="M1194,394L1168,417.6" stroke="#000" stroke-width="2.5" stroke-linecap="butt"/>
<path d="M1166,417.3L1225,425" stroke="#000" stroke-width="4" stroke-linecap="butt"/>
<path d="M1172,418.1L1222,424.6" stroke="#fff" stroke-width="1" stroke-linecap="butt" stroke-dasharray="3 3"/>
<path d="M1222.8,426L1249.3,399.8" stroke="#000" stroke-width="4" stroke-linecap="butt"/>
<path d="M1192.5,476.4L1249,483.6" stroke="#000" stroke-width="2.5" stroke-linecap="butt"/>
<path d="M1194,476.6L1168,500.2" stroke="#000" stroke-width="2.5" stroke-linecap="butt"/>
<path d="M1166,499.9L1225,507.6" stroke="#000" stroke-width="4" stroke-linecap="butt"/>
<path d="M1172,500.7L1222,507.2" stroke="#fff" stroke-width="1" stroke-linecap="butt" stroke-dasharray="3 3"/>
<path d="M1222.8,508.6L1249.3,482.4" stroke="#000" stroke-width="4" stroke-linecap="butt"/>
<path d="M1192.5,558.4L1249,565.6" stroke="#000" stroke-width="2.5" stroke-linecap="butt"/>
<path d="M1194,558.6L1168,582.2" stroke="#000" stroke-width="2.5" stroke-linecap="butt"/>
<path d="M1166,581.9L1225,589.6" stroke="#000" stroke-width="4" stroke-linecap="butt"/>
<path d="M1222.8,590.6L1249.3,564.4" stroke="#000" stroke-width="4" stroke-linecap="butt"/>
<path d="M1231.3,242.5L1288.3,249.7L1288.3,564.7L1231.3,557.7Z" stroke="#000" stroke-width="2" fill="none" stroke-linejoin="miter" stroke-linecap="butt"/>
<path d="M784.8,179.5L784.8,155.9L896.7,168.9L896.7,195.2" stroke="#000" stroke-width="3" fill="none" stroke-linejoin="miter" stroke-linecap="butt"/>
<path d="M784.4,207.5L784.4,219" stroke="#000" stroke-width="2.4" stroke-linecap="butt"/>
<path d="M783.3,218.6L898,232.3" stroke="#000" stroke-width="2.2" stroke-linecap="butt"/>
<path d="M896.9,222L896.9,233" stroke="#000" stroke-width="3" stroke-linecap="butt"/>
<path d="M763.8,178.7L1109.5,221.3" stroke="#000" stroke-width="2.5" stroke-linecap="butt"/>
<path d="M765.4,178L740.2,204" stroke="#000" stroke-width="3" stroke-linecap="butt"/>
<path d="M739.6,203.2L1086,246.4" stroke="#000" stroke-width="4.6" stroke-linecap="butt"/>
<path d="M900,223.6L1082,246.2" stroke="#fff" stroke-width="1" stroke-linecap="butt" stroke-dasharray="3 3.4"/>
<path d="M1083.8,247.6L1110,220" stroke="#000" stroke-width="4" stroke-linecap="butt"/>
<path d="M1012.2,209L1012.2,184.7L1125,198L1125,261.7" stroke="#000" stroke-width="3.2" fill="none" stroke-linejoin="miter" stroke-linecap="butt"/>
<path d="M1012.2,237.5L1012.2,249.4" stroke="#000" stroke-width="3" stroke-linecap="butt"/>
<path d="M1011,248.2L1126.5,261.8" stroke="#000" stroke-width="2.6" stroke-linecap="butt"/>
<path d="M788.8,219L788.8,247" stroke="#000" stroke-width="2" stroke-linecap="butt"/>
<path d="M845.8,227.5L845.8,254" stroke="#000" stroke-width="1.6" stroke-linecap="butt"/>
<path d="M860,229.5L860,256.5" stroke="#000" stroke-width="3" stroke-linecap="butt"/>
<path d="M875.7,230.8L875.7,260" stroke="#000" stroke-width="2" stroke-linecap="butt"/>
<path d="M742.4,612.6L763,593" stroke="#000" stroke-width="3" stroke-linecap="butt"/>
<path d="M742.2,611.6L1082,654.5" stroke="#000" stroke-width="3.7" stroke-linecap="butt"/>
<path d="M1079.8,655.6L1103.4,635.6" stroke="#000" stroke-width="3.6" stroke-linecap="butt"/>
<path d="M1099,634.5L1110,635.5L1110,641.5L1099,640.5Z" stroke="#000" stroke-width="1.6" fill="none" stroke-linejoin="miter" stroke-linecap="butt"/>
<path d="M723.5,631.7L1065,672.9" stroke="#000" stroke-width="3" stroke-linecap="butt"/>
<path d="M723.5,644.2L1065,685.2" stroke="#000" stroke-width="2.2" stroke-linecap="butt"/>
<path d="M724.5,630.4L724.5,645.2" stroke="#000" stroke-width="2" stroke-linecap="butt"/>
<path d="M1063.6,671.5L1063.6,686.4" stroke="#000" stroke-width="3" stroke-linecap="butt"/>
<path d="M1193,313.8L1193,337.4" stroke="#fff" stroke-width="3" stroke-linecap="butt"/>
<path d="M1192,313.8L1192,337.4" stroke="#bcbcbc" stroke-width="1" stroke-linecap="butt"/>
<path d="M1194,313.8L1194,337.8" stroke="#bcbcbc" stroke-width="1" stroke-linecap="butt"/>
<path d="M1231.3,318.6L1231.3,333.8" stroke="#fff" stroke-width="3" stroke-linecap="butt"/>
<path d="M1231.3,318.6L1231.3,333.8" stroke="#bcbcbc" stroke-width="1" stroke-linecap="butt"/>
<path d="M1193,395.4L1193,419" stroke="#fff" stroke-width="3" stroke-linecap="butt"/>
<path d="M1192,395.4L1192,419" stroke="#bcbcbc" stroke-width="1" stroke-linecap="butt"/>
<path d="M1194,395.4L1194,419.4" stroke="#bcbcbc" stroke-width="1" stroke-linecap="butt"/>
<path d="M1231.3,400.2L1231.3,415.4" stroke="#fff" stroke-width="3" stroke-linecap="butt"/>
<path d="M1231.3,400.2L1231.3,415.4" stroke="#bcbcbc" stroke-width="1" stroke-linecap="butt"/>
<path d="M1193,478L1193,501.6" stroke="#fff" stroke-width="3" stroke-linecap="butt"/>
<path d="M1192,478L1192,501.6" stroke="#bcbcbc" stroke-width="1" stroke-linecap="butt"/>
<path d="M1194,478L1194,502" stroke="#bcbcbc" stroke-width="1" stroke-linecap="butt"/>
<path d="M1231.3,482.8L1231.3,498" stroke="#fff" stroke-width="3" stroke-linecap="butt"/>
<path d="M1231.3,482.8L1231.3,498" stroke="#bcbcbc" stroke-width="1" stroke-linecap="butt"/>
<path d="M1193,560L1193,583.6" stroke="#fff" stroke-width="3" stroke-linecap="butt"/>
<path d="M1192,560L1192,583.6" stroke="#bcbcbc" stroke-width="1" stroke-linecap="butt"/>
<path d="M1194,560L1194,584" stroke="#bcbcbc" stroke-width="1" stroke-linecap="butt"/>
</g><g id="marks" shape-rendering="crispEdges">
<rect x="688.2" y="439.6" width="2.8" height="19.2" fill="#1c1cf0"/>
<rect x="690.8" y="440" width="2.2" height="3.4" fill="#1c1cf0"/>
<rect x="690.8" y="453.8" width="2.2" height="3.4" fill="#1c1cf0"/>
<rect x="773.3" y="450.4" width="3.2" height="19.2" fill="#1c1cf0"/>
<rect x="776.3" y="450.8" width="2.2" height="3.4" fill="#1c1cf0"/>
<rect x="776.3" y="464.6" width="2.2" height="3.4" fill="#1c1cf0"/>
<rect x="810" y="454.6" width="3.7" height="19.2" fill="#1c1cf0"/>
<rect x="813.5" y="455" width="2.2" height="3.4" fill="#1c1cf0"/>
<rect x="813.5" y="468.8" width="2.2" height="3.4" fill="#1c1cf0"/>
<rect x="943.4" y="471.2" width="3.2" height="19.2" fill="#1c1cf0"/>
<rect x="946.4" y="471.6" width="2.2" height="3.4" fill="#1c1cf0"/>
<rect x="946.4" y="485.4" width="2.2" height="3.4" fill="#1c1cf0"/>
<rect x="980.8" y="475.6" width="3.4" height="19.2" fill="#1c1cf0"/>
<rect x="984" y="476" width="2.2" height="3.4" fill="#1c1cf0"/>
<rect x="984" y="489.8" width="2.2" height="3.4" fill="#1c1cf0"/>
<rect x="1066.3" y="486.4" width="3.4" height="19.2" fill="#1c1cf0"/>
<rect x="1069.5" y="486.8" width="2.2" height="3.4" fill="#1c1cf0"/>
<rect x="1069.5" y="500.6" width="2.2" height="3.4" fill="#1c1cf0"/>
<path d="M669.4,258.5C669.4,255.5 672,254.5 672.5,252.3L674.2,252.3C674.5,254.5 676.6,255.5 676.6,258.5C676.6,261 675,262.3 673,262.3C671,262.3 669.4,261 669.4,258.5Z" fill="#1e86f2"/>
<rect x="672.2" y="257.7" width="1.5" height="1.5" fill="#fff"/>
<path d="M753.4,270.5C753.4,267.5 756,266.5 756.5,264.3L758.2,264.3C758.5,266.5 760.6,267.5 760.6,270.5C760.6,273 759,274.3 757,274.3C755,274.3 753.4,273 753.4,270.5Z" fill="#1e86f2"/>
<rect x="756.2" y="269.7" width="1.5" height="1.5" fill="#fff"/>
<path d="M923.9,291.4C923.9,288.4 926.5,287.4 927,285.2L928.7,285.2C929,287.4 931.1,288.4 931.1,291.4C931.1,293.9 929.5,295.2 927.5,295.2C925.5,295.2 923.9,293.9 923.9,291.4Z" fill="#1e86f2"/>
<rect x="926.7" y="290.6" width="1.5" height="1.5" fill="#fff"/>
<path d="M888.7,286.5C888.7,283.5 890,281.4 891.7,281.2C893.5,281.4 894.9,284 895.5,285L897.5,285.2L897.5,287.4L895.5,287.6C895.1,289.6 893.5,290.8 891.5,290.8C889.7,290.8 888.7,289 888.7,286.5Z" fill="#1e86f2"/>
<rect x="891.1" y="285.6" width="1.5" height="1.5" fill="#fff"/>
<path d="M888.7,358.3C888.7,355.3 890,353.2 891.7,353C893.5,353.2 894.9,355.8 895.5,356.8L897.5,357L897.5,359.2L895.5,359.4C895.1,361.4 893.5,362.6 891.5,362.6C889.7,362.6 888.7,360.8 888.7,358.3Z" fill="#1e86f2"/>
<rect x="891.1" y="357.4" width="1.5" height="1.5" fill="#fff"/>
<path d="M888.7,428.7C888.7,425.7 890,423.6 891.7,423.4C893.5,423.6 894.9,426.2 895.5,427.2L897.5,427.4L897.5,429.6L895.5,429.8C895.1,431.8 893.5,433 891.5,433C889.7,433 888.7,431.2 888.7,428.7Z" fill="#1e86f2"/>
<rect x="891.1" y="427.8" width="1.5" height="1.5" fill="#fff"/>
<path d="M888.7,499.5C888.7,496.5 890,494.4 891.7,494.2C893.5,494.4 894.9,497 895.5,498L897.5,498.2L897.5,500.4L895.5,500.6C895.1,502.6 893.5,503.8 891.5,503.8C889.7,503.8 888.7,502 888.7,499.5Z" fill="#1e86f2"/>
<rect x="891.1" y="498.6" width="1.5" height="1.5" fill="#fff"/>
<path d="M888.7,570.5C888.7,567.5 890,565.4 891.7,565.2C893.5,565.4 894.9,568 895.5,569L897.5,569.2L897.5,571.4L895.5,571.6C895.1,573.6 893.5,574.8 891.5,574.8C889.7,574.8 888.7,573 888.7,570.5Z" fill="#1e86f2"/>
<rect x="891.1" y="569.6" width="1.5" height="1.5" fill="#fff"/>
<circle cx="1063.3" cy="307.8" r="3.9" fill="#1e86f2"/>
<rect x="1062.3" y="307" width="2" height="1.6" fill="#fff"/>
<rect x="1066.3" y="303.2" width="1.6" height="1.6" fill="#1e86f2"/>
<circle cx="1063.3" cy="378.7" r="3.9" fill="#1e86f2"/>
<rect x="1062.3" y="377.9" width="2" height="1.6" fill="#fff"/>
<rect x="1066.3" y="374.1" width="1.6" height="1.6" fill="#1e86f2"/>
<circle cx="1063.3" cy="449" r="3.9" fill="#1e86f2"/>
<rect x="1062.3" y="448.2" width="2" height="1.6" fill="#fff"/>
<rect x="1066.3" y="444.4" width="1.6" height="1.6" fill="#1e86f2"/>
<circle cx="1063.3" cy="520.7" r="3.9" fill="#1e86f2"/>
<rect x="1062.3" y="519.9" width="2" height="1.6" fill="#fff"/>
<rect x="1066.3" y="516.1" width="1.6" height="1.6" fill="#1e86f2"/>
<circle cx="1063.3" cy="591" r="3.9" fill="#1e86f2"/>
<rect x="1062.3" y="590.2" width="2" height="1.6" fill="#fff"/>
<rect x="1066.3" y="586.4" width="1.6" height="1.6" fill="#1e86f2"/>
<circle cx="1150.8" cy="317" r="3.9" fill="#1e86f2"/>
<rect x="1149.8" y="316.2" width="2" height="1.6" fill="#fff"/>
<rect x="1153.8" y="312.4" width="1.6" height="1.6" fill="#1e86f2"/>
<circle cx="1150.8" cy="388.7" r="3.9" fill="#1e86f2"/>
<rect x="1149.8" y="387.9" width="2" height="1.6" fill="#fff"/>
<rect x="1153.8" y="384.1" width="1.6" height="1.6" fill="#1e86f2"/>
<circle cx="1151" cy="459" r="3.9" fill="#1e86f2"/>
<rect x="1150" y="458.2" width="2" height="1.6" fill="#fff"/>
<rect x="1154" y="454.4" width="1.6" height="1.6" fill="#1e86f2"/>
<circle cx="1151" cy="530.7" r="3.9" fill="#1e86f2"/>
<rect x="1150" y="529.9" width="2" height="1.6" fill="#fff"/>
<rect x="1154" y="526.1" width="1.6" height="1.6" fill="#1e86f2"/>
<circle cx="1150.8" cy="602.7" r="3.9" fill="#1e86f2"/>
<rect x="1149.8" y="601.9" width="2" height="1.6" fill="#fff"/>
<rect x="1153.8" y="598.1" width="1.6" height="1.6" fill="#1e86f2"/>
<rect x="715.7" y="309" width="2" height="3" fill="#1e86f2"/>
<rect x="715.2" y="435" width="3" height="2" fill="#1e86f2"/>
<rect x="1162.5" y="344.5" width="3" height="2" fill="#1e86f2"/>
<rect x="1142.5" y="362.8" width="3" height="2" fill="#1e86f2"/>
<rect x="1162.5" y="470.3" width="3" height="1.6" fill="#1e86f2"/>
<rect x="1142.5" y="488.5" width="3" height="2" fill="#1e86f2"/>
<rect x="959.6" y="260.5" width="8.7" height="2.6" fill="#e61414"/>
<rect x="960.4" y="309.6" width="8.4" height="2.6" fill="#e61414"/>
<rect x="960" y="320.6" width="6" height="2.6" fill="#e61414"/>
<rect x="961" y="434.5" width="7" height="2.6" fill="#e61414"/>
<rect x="961" y="448.8" width="7" height="2.6" fill="#e61414"/>
<circle cx="788.75" cy="168" r="1.8" fill="#000"/>
<circle cx="795.8" cy="163" r="1.8" fill="#000"/>
<circle cx="840" cy="168" r="1.8" fill="#000"/>
<circle cx="885" cy="174" r="1.8" fill="#000"/>
<circle cx="1023.75" cy="190.8" r="1.8" fill="#000"/>
<circle cx="1017" cy="197" r="1.8" fill="#000"/>
<circle cx="1068" cy="196.7" r="1.8" fill="#000"/>
<circle cx="1112" cy="202" r="1.8" fill="#000"/>
<circle cx="1119" cy="210" r="1.8" fill="#000"/>
<circle cx="839.5" cy="221" r="1.8" fill="#000"/>
<circle cx="884" cy="228" r="1.8" fill="#000"/>
<circle cx="1024" cy="244.5" r="1.8" fill="#000"/>
<circle cx="1068" cy="250" r="1.8" fill="#000"/>
<circle cx="801.7" cy="614.3" r="1.8" fill="#000"/>
<circle cx="1030" cy="642.7" r="1.8" fill="#000"/>
<circle cx="786.7" cy="442" r="1.3" fill="#000"/>
<circle cx="786.7" cy="455.7" r="1.3" fill="#000"/>
<circle cx="824" cy="447" r="1.3" fill="#000"/>
<circle cx="824" cy="460.7" r="1.3" fill="#000"/>
<circle cx="956.7" cy="463.7" r="1.3" fill="#000"/>
<circle cx="956.7" cy="477" r="1.3" fill="#000"/>
<circle cx="993.8" cy="467.8" r="1.3" fill="#000"/>
<circle cx="993.8" cy="481.5" r="1.3" fill="#000"/>
<circle cx="1078.8" cy="479" r="1.3" fill="#000"/>
<circle cx="1078.8" cy="492.8" r="1.3" fill="#000"/>
<circle cx="701.3" cy="431.5" r="1.3" fill="#000"/>
<circle cx="716.7" cy="473.7" r="1.3" fill="#000"/>
<rect x="813.6" y="169.6" width="3.6" height="8.7" fill="#000"/>
<rect x="812.4" y="175.7" width="6" height="2.6" fill="#000"/>
<rect x="819.1" y="171.2" width="2.6" height="6.4" fill="#e6086f"/>
<rect x="857.2" y="176.7" width="3.6" height="8.3" fill="#000"/>
<rect x="856" y="182.4" width="6" height="2.6" fill="#000"/>
<rect x="863.3" y="177.5" width="2.6" height="6.5" fill="#e6086f"/>
<rect x="902.2" y="181" width="3.6" height="8.5" fill="#000"/>
<rect x="898.3" y="181.2" width="2.6" height="6.4" fill="#e6086f"/>
<rect x="984.4" y="190.8" width="3.6" height="9.2" fill="#000"/>
<rect x="983.2" y="197.4" width="6" height="2.6" fill="#000"/>
<rect x="990.2" y="192.5" width="2.6" height="7" fill="#e6086f"/>
<rect x="1029" y="197.5" width="3.6" height="8" fill="#000"/>
<rect x="1034.1" y="199" width="2.6" height="5.6" fill="#e6086f"/>
<rect x="1074" y="201.7" width="3.6" height="10.3" fill="#000"/>
<rect x="1072.8" y="209.4" width="6" height="2.6" fill="#000"/>
<rect x="1069.1" y="203" width="2.6" height="6" fill="#e6086f"/>
<rect x="744.9" y="621.8" width="3.6" height="8.2" fill="#000"/>
<rect x="749.9" y="622" width="2.6" height="6.2" fill="#e6086f"/>
<rect x="823.2" y="631" width="3.6" height="8.5" fill="#000"/>
<rect x="828.3" y="632" width="2.6" height="6.2" fill="#e6086f"/>
<rect x="899.2" y="641" width="3.6" height="8.5" fill="#000"/>
<rect x="904.3" y="641" width="2.6" height="6.2" fill="#e6086f"/>
<rect x="980.2" y="652" width="3.6" height="8" fill="#000"/>
<rect x="976.2" y="649.3" width="2.6" height="7.7" fill="#e6086f"/>
<rect x="1058.7" y="661" width="3.6" height="9" fill="#000"/>
<rect x="1054.5" y="659" width="2.6" height="9.5" fill="#e6086f"/>
<rect x="772.5" y="207.8" width="6.5" height="2.6" fill="#e6086f"/>
<rect x="771.3" y="225.8" width="2.6" height="6" fill="#e6086f"/>
<rect x="768.6" y="228" width="3" height="8" fill="#000"/>
<rect x="772.5" y="238.8" width="6.6" height="2.6" fill="#e6086f"/>
<rect x="773" y="243" width="9" height="3" fill="#000"/>
<rect x="784.8" y="228" width="3.6" height="8" fill="#000"/>
<rect x="789.5" y="231" width="3" height="5.6" fill="#e6086f"/>
<rect x="829.2" y="234" width="3.6" height="7.6" fill="#000"/>
<rect x="828" y="232.2" width="6" height="2.6" fill="#000"/>
<rect x="834.2" y="236.7" width="2.6" height="5.4" fill="#e6086f"/>
<rect x="869" y="240.8" width="3.6" height="5.8" fill="#e6086f"/>
<rect x="873.3" y="239" width="2.6" height="7" fill="#000"/>
<rect x="929.6" y="227.5" width="2.4" height="5.6" fill="#e6086f"/>
<rect x="971.7" y="232.8" width="7.4" height="2.6" fill="#e6086f"/>
<rect x="914.2" y="243.3" width="2.6" height="6.8" fill="#e6086f"/>
<rect x="911.6" y="246" width="3" height="7.6" fill="#000"/>
<rect x="971.7" y="263.6" width="7.4" height="3" fill="#e6086f"/>
<rect x="975" y="269" width="7.4" height="2.4" fill="#000"/>
<rect x="1013.5" y="255" width="3" height="9" fill="#000"/>
<rect x="1018.6" y="260" width="3" height="6" fill="#e6086f"/>
<rect x="1073" y="244" width="2.6" height="8" fill="#e6086f"/>
<rect x="1075.6" y="246" width="2.6" height="7" fill="#000"/>
<rect x="1107.5" y="245.4" width="12.5" height="3.4" fill="#000"/>
<rect x="1110.8" y="250.2" width="7.4" height="3" fill="#e6086f"/>
<rect x="1110.4" y="254" width="3" height="3" fill="#000"/>
<rect x="1055.8" y="261.7" width="4.6" height="9.4" fill="#000"/>
<rect x="1063.4" y="264" width="2.6" height="6.8" fill="#e6086f"/>
<rect x="1098" y="268.7" width="3.6" height="7.2" fill="#e6086f"/>
<rect x="1144.3" y="253.3" width="4" height="9.2" fill="#3c0418"/>
<rect x="1127" y="269.6" width="3" height="7.4" fill="#e6086f"/>
<rect x="1125" y="277" width="3.6" height="3.6" fill="#000"/>
<rect x="1110.8" y="281" width="7.4" height="3" fill="#e6086f"/>
<rect x="1108" y="285.6" width="10" height="2" fill="#000"/>
<rect x="702" y="216.5" width="3" height="7" fill="#e6086f"/>
<rect x="699.6" y="220" width="3" height="7" fill="#000"/>
<rect x="717.8" y="201.7" width="2.6" height="6" fill="#e6086f"/>
<rect x="720.6" y="200" width="3" height="9" fill="#000"/>
<rect x="712" y="343" width="8" height="3" fill="#000"/>
<rect x="714" y="346" width="6" height="2.2" fill="#e6086f"/>
<rect x="712" y="486" width="7.4" height="3.6" fill="#000"/>
<rect x="714" y="489.6" width="6" height="2.2" fill="#e6086f"/>
<rect x="630.6" y="352" width="7" height="3.4" fill="#e6086f"/>
<rect x="629" y="355.4" width="8.6" height="1.6" fill="#000"/>
<rect x="631.5" y="497.4" width="6" height="3" fill="#e6086f"/>
<rect x="628.6" y="498.6" width="3" height="3.4" fill="#000"/>
<rect x="630" y="500.4" width="7" height="1.6" fill="#000"/>
<rect x="894.8" y="330.5" width="4" height="7" fill="#000"/>
<rect x="1065.6" y="352" width="4" height="7" fill="#000"/>
<rect x="657.6" y="589.4" width="5" height="3" fill="#000"/>
<rect x="719" y="561" width="11" height="3" fill="#000"/>
<rect x="723.3" y="563.8" width="7" height="2.6" fill="#e6086f"/>
<rect x="725" y="570" width="7.4" height="2.6" fill="#000"/>
<rect x="692.5" y="595.8" width="6" height="2.4" fill="#e6086f"/>
<rect x="690" y="600.4" width="9.4" height="2.6" fill="#000"/>
<rect x="705.8" y="580.6" width="3" height="3" fill="#e6086f"/>
<rect x="792.4" y="625.4" width="7" height="3" fill="#000"/>
<rect x="746" y="669.4" width="7" height="2.6" fill="#000"/>
<rect x="1072.8" y="603.5" width="2.6" height="6.6" fill="#e6086f"/>
<rect x="1055.8" y="617.7" width="3.6" height="7.8" fill="#e6086f"/>
<rect x="1140" y="613" width="8" height="3" fill="#000"/>
<rect x="1143" y="617.4" width="7.4" height="3" fill="#e6086f"/>
<rect x="1141" y="622.4" width="9" height="2.6" fill="#000"/>
<rect x="1111" y="649" width="7" height="3" fill="#e6086f"/>
<rect x="1108" y="653.4" width="10" height="2.6" fill="#000"/>
<rect x="1083.2" y="661.4" width="7" height="2.6" fill="#000"/>
<rect x="1167.6" y="653" width="5" height="2.6" fill="#000"/>
<rect x="1184.6" y="636.4" width="6" height="2.6" fill="#000"/>
<rect x="1131.6" y="559" width="4" height="3" fill="#e6086f"/>
<rect x="1197.5" y="567" width="6" height="3" fill="#e6086f"/>
<rect x="1195" y="570" width="5.4" height="2.4" fill="#000"/>
<rect x="1212" y="550.4" width="8" height="2.8" fill="#000"/>
<rect x="972.6" y="427" width="8.4" height="3" fill="#000"/>
<rect x="972.6" y="432" width="8.4" height="3" fill="#000"/>
<rect x="1197.5" y="422.4" width="6.6" height="3" fill="#e6086f"/>
<rect x="1146" y="396" width="9" height="3" fill="#000"/>
<rect x="1145" y="399" width="5.4" height="2.2" fill="#e6086f"/>
<rect x="1146" y="541" width="9" height="3" fill="#000"/>
<rect x="1144" y="544" width="5.4" height="2.2" fill="#e6086f"/>
<rect x="1113" y="281" width="0.1" height="0.1" fill="#e6086f"/>
<rect x="1045.2" y="324.4" width="2.6" height="3" fill="#000"/>
<rect x="1045.2" y="395.4" width="2.6" height="3" fill="#000"/>
<rect x="1045.2" y="466.4" width="2.6" height="3" fill="#000"/>
<rect x="1045.2" y="537.4" width="2.6" height="3" fill="#000"/>
<rect x="1045.2" y="607.4" width="2.6" height="3" fill="#000"/>
</g><g id="labels">
<path d="M1.2,5.6C1.7,2.5 3.7,1 6.8,1C10.4,1 12.6,2.8 12.6,6C12.6,8 12,9.4 10.8,11.2L1.3,26.3H13.7" transform="translate(461.3,8.2)" stroke="#000" stroke-width="1.9" stroke-linejoin="round" stroke-linecap="butt"/>
<path d="M6.6,0.3L1.1,21H15.6M10.4,12V27.4" transform="translate(483.7,8.2)" stroke="#000" stroke-width="1.9" stroke-linejoin="round" stroke-linecap="butt"/>
<path d="M461,41.3L509.5,41.3" stroke="#000" stroke-width="1" stroke-linecap="butt" shape-rendering="crispEdges"/>
<path d="M509.5,41.3L817.5,348.3" stroke="#000" stroke-width="1" stroke-linecap="butt" shape-rendering="crispEdges"/>
<circle cx="817.5" cy="348.3" r="1.3" fill="#fff" stroke="#000" stroke-width="0.8"/>
<path d="M7.15,12.9C3.6,12.9 2.1,11.4 2.1,8.6V5.4C2.1,2.4 3.8,1 7.15,1C10.5,1 12.2,2.4 12.2,5.4V8.6C12.2,11.4 10.7,12.9 7.15,12.9C11.2,12.9 13.3,14.6 13.3,18V21.4C13.3,24.8 11.2,26.4 7.15,26.4C3.1,26.4 1,24.8 1,21.4V18C1,14.6 3.1,12.9 7.15,12.9Z" transform="translate(756.7,8.2)" stroke="#000" stroke-width="1.9" stroke-linejoin="round" stroke-linecap="butt"/>
<path d="M756.3,41.3L779.6,41.3" stroke="#000" stroke-width="1" stroke-linecap="butt" shape-rendering="crispEdges"/>
<path d="M779.6,41.3L810.4,265.75" stroke="#000" stroke-width="1" stroke-linecap="butt" shape-rendering="crispEdges"/>
<circle cx="810.4" cy="265.75" r="1.3" fill="#fff" stroke="#000" stroke-width="0.8"/>
<path d="M0.7,8.2L6.5,1.2V27.4" transform="translate(851,8.2)" stroke="#000" stroke-width="1.9" stroke-linejoin="round" stroke-linecap="butt"/>
<path d="M1,7.2C1,3 3,1 7.15,1C11.3,1 13.3,3 13.3,7.2V20.2C13.3,24.4 11.3,26.4 7.15,26.4C3,26.4 1,24.4 1,20.2Z" transform="translate(866.7,8.2)" stroke="#000" stroke-width="1.9" stroke-linejoin="round" stroke-linecap="butt"/>
<path d="M847,41.3L885.9,41.3" stroke="#000" stroke-width="1" stroke-linecap="butt" shape-rendering="crispEdges"/>
<path d="M847,41.3L840.4,195" stroke="#000" stroke-width="1" stroke-linecap="butt" shape-rendering="crispEdges"/>
<circle cx="840.4" cy="195" r="1.3" fill="#fff" stroke="#000" stroke-width="0.8"/>
<path d="M1.2,5.6C1.7,2.5 3.7,1 6.8,1C10.4,1 12.6,2.8 12.6,6C12.6,8 12,9.4 10.8,11.2L1.3,26.3H13.7" transform="translate(918.1,8.2)" stroke="#000" stroke-width="1.9" stroke-linejoin="round" stroke-linecap="butt"/>
<path d="M6.6,0.3L1.1,21H15.6M10.4,12V27.4" transform="translate(940.25,8.2)" stroke="#000" stroke-width="1.9" stroke-linejoin="round" stroke-linecap="butt"/>
<path d="M915,41.3L962.9,41.3" stroke="#000" stroke-width="1" stroke-linecap="butt" shape-rendering="crispEdges"/>
<path d="M915,41.3L903.3,358.5" stroke="#000" stroke-width="1" stroke-linecap="butt" shape-rendering="crispEdges"/>
<circle cx="903.3" cy="358.5" r="1.3" fill="#fff" stroke="#000" stroke-width="0.8"/>
<path d="M0.7,8.2L6.5,1.2V27.4" transform="translate(985.7,8.2)" stroke="#000" stroke-width="1.9" stroke-linejoin="round" stroke-linecap="butt"/>
<path d="M982.25,41.3L999.75,41.3" stroke="#000" stroke-width="1" stroke-linecap="butt" shape-rendering="crispEdges"/>
<path d="M982.25,41.3L924.2,212.5" stroke="#000" stroke-width="1" stroke-linecap="butt" shape-rendering="crispEdges"/>
<circle cx="924.2" cy="212.5" r="1.3" fill="#fff" stroke="#000" stroke-width="0.8"/>
<path d="M9.8,0.4C4,3.2 1,9 1,15.5V21.5C1,25 3,26.4 6.9,26.4C10.8,26.4 12.85,25 12.85,21.5V17.6C12.85,14.3 11,12.9 8,12.9H1.3" transform="translate(1053.8,8.2)" stroke="#000" stroke-width="1.9" stroke-linejoin="round" stroke-linecap="butt"/>
<path d="M1050.1,41.3L1074,41.3" stroke="#000" stroke-width="1" stroke-linecap="butt" shape-rendering="crispEdges"/>
<path d="M1050.1,41.3L922.5,418" stroke="#000" stroke-width="1" stroke-linecap="butt" shape-rendering="crispEdges"/>
<circle cx="922.5" cy="418" r="1.3" fill="#fff" stroke="#000" stroke-width="0.8"/>
<path d="M13.1,14.8H6.2C2.6,14.8 1,13.2 1,10V6C1,2.5 3,1 7,1C11,1 13.1,2.5 13.1,6V13.5C13.1,20 10,24.6 4.4,27" transform="translate(1121.9,8.2)" stroke="#000" stroke-width="1.9" stroke-linejoin="round" stroke-linecap="butt"/>
<path d="M1117.3,41.3L1141.6,41.3" stroke="#000" stroke-width="1" stroke-linecap="butt" shape-rendering="crispEdges"/>
<path d="M1117.3,41.3L1038.3,293.75" stroke="#000" stroke-width="1" stroke-linecap="butt" shape-rendering="crispEdges"/>
<circle cx="1038.3" cy="293.75" r="1.3" fill="#fff" stroke="#000" stroke-width="0.8"/>
<path d="M0.7,8.2L6.5,1.2V27.4" transform="translate(1188.6,8.2)" stroke="#000" stroke-width="1.9" stroke-linejoin="round" stroke-linecap="butt"/>
<path d="M0.7,8.2L6.5,1.2V27.4" transform="translate(1204.1,8.2)" stroke="#000" stroke-width="1.9" stroke-linejoin="round" stroke-linecap="butt"/>
<path d="M1185,41.3L1217.9,41.3" stroke="#000" stroke-width="1" stroke-linecap="butt" shape-rendering="crispEdges"/>
<path d="M1185,41.3L1068.75,223" stroke="#000" stroke-width="1" stroke-linecap="butt" shape-rendering="crispEdges"/>
<circle cx="1068.75" cy="223" r="1.3" fill="#fff" stroke="#000" stroke-width="0.8"/>
<path d="M1.2,5.6C1.7,2.5 3.7,1 6.8,1C10.4,1 12.6,2.8 12.6,6C12.6,8 12,9.4 10.8,11.2L1.3,26.3H13.7" transform="translate(1437.5,32.6)" stroke="#000" stroke-width="1.9" stroke-linejoin="round" stroke-linecap="butt"/>
<path d="M6.6,0.3L1.1,21H15.6M10.4,12V27.4" transform="translate(1459.4,32.6)" stroke="#000" stroke-width="1.9" stroke-linejoin="round" stroke-linecap="butt"/>
<path d="M1433.1,65.3L1481.9,65.3" stroke="#000" stroke-width="1" stroke-linecap="butt" shape-rendering="crispEdges"/>
<path d="M1433.1,65.3L1045,376.7" stroke="#000" stroke-width="1" stroke-linecap="butt" shape-rendering="crispEdges"/>
<circle cx="1045" cy="376.7" r="1.3" fill="#fff" stroke="#000" stroke-width="0.8"/>
<path d="M0.7,8.2L6.5,1.2V27.4" transform="translate(444.75,111.9)" stroke="#000" stroke-width="1.9" stroke-linejoin="round" stroke-linecap="butt"/>
<path d="M11.3,1H1V12.5H6.2C9.3,12.5 10.7,14.2 10.7,17.3V21.6C10.7,24.8 9.3,26.4 6.2,26.4H0.1" transform="translate(462.25,111.9)" stroke="#000" stroke-width="1.9" stroke-linejoin="round" stroke-linecap="butt"/>
<path d="M445,144.1L485,144.1" stroke="#000" stroke-width="1" stroke-linecap="butt" shape-rendering="crispEdges"/>
<path d="M485,144.1L640.6,256.5" stroke="#000" stroke-width="1" stroke-linecap="butt" shape-rendering="crispEdges"/>
<circle cx="640.6" cy="256.5" r="1.3" fill="#fff" stroke="#000" stroke-width="0.8"/>
<path d="M1.2,5.6C1.7,2.5 3.7,1 6.8,1C10.4,1 12.6,2.8 12.6,6C12.6,8 12,9.4 10.8,11.2L1.3,26.3H13.7" transform="translate(439.4,176)" stroke="#000" stroke-width="1.9" stroke-linejoin="round" stroke-linecap="butt"/>
<path d="M11.3,1H1V12.5H6.2C9.3,12.5 10.7,14.2 10.7,17.3V21.6C10.7,24.8 9.3,26.4 6.2,26.4H0.1" transform="translate(462.25,176)" stroke="#000" stroke-width="1.9" stroke-linejoin="round" stroke-linecap="butt"/>
<path d="M439,208.4L485,208.4" stroke="#000" stroke-width="1" stroke-linecap="butt" shape-rendering="crispEdges"/>
<path d="M485,208.4L689.7,332" stroke="#000" stroke-width="1" stroke-linecap="butt" shape-rendering="crispEdges"/>
<circle cx="689.7" cy="332" r="1.3" fill="#fff" stroke="#000" stroke-width="0.8"/>
<path d="M0.7,8.2L6.5,1.2V27.4" transform="translate(441.9,303.75)" stroke="#000" stroke-width="1.9" stroke-linejoin="round" stroke-linecap="butt"/>
<path d="M6.6,0.3L1.1,21H15.6M10.4,12V27.4" transform="translate(458.1,303.75)" stroke="#000" stroke-width="1.9" stroke-linejoin="round" stroke-linecap="butt"/>
<path d="M441.9,336.25L485,336.25" stroke="#000" stroke-width="1" stroke-linecap="butt" shape-rendering="crispEdges"/>
<path d="M485,336.25L640.6,338.5" stroke="#000" stroke-width="1" stroke-linecap="butt" shape-rendering="crispEdges"/>
<circle cx="640.6" cy="338.5" r="1.3" fill="#fff" stroke="#000" stroke-width="0.8"/>
<path d="M6.6,0.3L1.1,21H15.6M10.4,12V27.4" transform="translate(457.75,431.9)" stroke="#000" stroke-width="1.9" stroke-linejoin="round" stroke-linecap="butt"/>
<path d="M457.25,464.1L485.6,464.1" stroke="#000" stroke-width="1" stroke-linecap="butt" shape-rendering="crispEdges"/>
<path d="M485.6,464.1L669.7,392.8" stroke="#000" stroke-width="1" stroke-linecap="butt" shape-rendering="crispEdges"/>
<circle cx="669.7" cy="392.8" r="1.3" fill="#fff" stroke="#000" stroke-width="0.8"/>
<path d="M0.7,8.2L6.5,1.2V27.4" transform="translate(444.75,496)" stroke="#000" stroke-width="1.9" stroke-linejoin="round" stroke-linecap="butt"/>
<path d="M11.3,1H1V12.5H6.2C9.3,12.5 10.7,14.2 10.7,17.3V21.6C10.7,24.8 9.3,26.4 6.2,26.4H0.1" transform="translate(462.25,496)" stroke="#000" stroke-width="1.9" stroke-linejoin="round" stroke-linecap="butt"/>
<path d="M445,528.1L485,528.1" stroke="#000" stroke-width="1" stroke-linecap="butt" shape-rendering="crispEdges"/>
<path d="M485,528.1L640.8,420.7" stroke="#000" stroke-width="1" stroke-linecap="butt" shape-rendering="crispEdges"/>
<circle cx="640.8" cy="420.7" r="1.3" fill="#fff" stroke="#000" stroke-width="0.8"/>
<path d="M0.7,8.2L6.5,1.2V27.4" transform="translate(444.75,560.4)" stroke="#000" stroke-width="1.9" stroke-linejoin="round" stroke-linecap="butt"/>
<path d="M7.15,12.9C3.6,12.9 2.1,11.4 2.1,8.6V5.4C2.1,2.4 3.8,1 7.15,1C10.5,1 12.2,2.4 12.2,5.4V8.6C12.2,11.4 10.7,12.9 7.15,12.9C11.2,12.9 13.3,14.6 13.3,18V21.4C13.3,24.8 11.2,26.4 7.15,26.4C3.1,26.4 1,24.8 1,21.4V18C1,14.6 3.1,12.9 7.15,12.9Z" transform="translate(460.6,560.4)" stroke="#000" stroke-width="1.9" stroke-linejoin="round" stroke-linecap="butt"/>
<path d="M445,592.4L485,592.4" stroke="#000" stroke-width="1" stroke-linecap="butt" shape-rendering="crispEdges"/>
<path d="M485,592.4L677.5,421.5" stroke="#000" stroke-width="1" stroke-linecap="butt" shape-rendering="crispEdges"/>
<circle cx="677.5" cy="421.5" r="1.3" fill="#fff" stroke="#000" stroke-width="0.8"/>
<path d="M0.7,8.2L6.5,1.2V27.4" transform="translate(442.3,624)" stroke="#000" stroke-width="1.9" stroke-linejoin="round" stroke-linecap="butt"/>
<path d="M6.6,0.3L1.1,21H15.6M10.4,12V27.4" transform="translate(458.3,624)" stroke="#000" stroke-width="1.9" stroke-linejoin="round" stroke-linecap="butt"/>
<path d="M442,656L485,656" stroke="#000" stroke-width="1" stroke-linecap="butt" shape-rendering="crispEdges"/>
<path d="M485,656L640.8,501.5" stroke="#000" stroke-width="1" stroke-linecap="butt" shape-rendering="crispEdges"/>
<circle cx="640.8" cy="501.5" r="1.3" fill="#fff" stroke="#000" stroke-width="0.8"/>
<path d="M1,4.6V1H12.5L6.9,27.4" transform="translate(460.6,687.3)" stroke="#000" stroke-width="1.9" stroke-linejoin="round" stroke-linecap="butt"/>
<path d="M460.2,719.5L484.8,719.5" stroke="#000" stroke-width="1" stroke-linecap="butt" shape-rendering="crispEdges"/>
<path d="M484.8,719.5L751.3,396.2" stroke="#000" stroke-width="1" stroke-linecap="butt" shape-rendering="crispEdges"/>
<circle cx="751.3" cy="396.2" r="1.3" fill="#fff" stroke="#000" stroke-width="0.8"/>
<path d="M1.2,5.6C1.7,2.5 3.7,1 6.8,1C10.4,1 12.6,2.8 12.6,6C12.6,8 12,9.4 10.8,11.2L1.3,26.3H13.7" transform="translate(439.3,751.5)" stroke="#000" stroke-width="1.9" stroke-linejoin="round" stroke-linecap="butt"/>
<path d="M1,7.2C1,3 3,1 7.15,1C11.3,1 13.3,3 13.3,7.2V20.2C13.3,24.4 11.3,26.4 7.15,26.4C3,26.4 1,24.4 1,20.2Z" transform="translate(460.9,751.5)" stroke="#000" stroke-width="1.9" stroke-linejoin="round" stroke-linecap="butt"/>
<path d="M439.2,783.5L484.9,783.5" stroke="#000" stroke-width="1" stroke-linecap="butt" shape-rendering="crispEdges"/>
<path d="M484.9,783.5L763.3,432" stroke="#000" stroke-width="1" stroke-linecap="butt" shape-rendering="crispEdges"/>
<circle cx="763.3" cy="432" r="1.3" fill="#fff" stroke="#000" stroke-width="0.8"/>
<path d="M0.7,8.2L6.5,1.2V27.4" transform="translate(602.6,736.6)" stroke="#000" stroke-width="1.9" stroke-linejoin="round" stroke-linecap="butt"/>
<path d="M9.8,0.4C4,3.2 1,9 1,15.5V21.5C1,25 3,26.4 6.9,26.4C10.8,26.4 12.85,25 12.85,21.5V17.6C12.85,14.3 11,12.9 8,12.9H1.3" transform="translate(619,736.6)" stroke="#000" stroke-width="1.9" stroke-linejoin="round" stroke-linecap="butt"/>
<path d="M604,769L643.1,769" stroke="#000" stroke-width="1" stroke-linecap="butt" shape-rendering="crispEdges"/>
<path d="M643.1,769L840.8,397.8" stroke="#000" stroke-width="1" stroke-linecap="butt" shape-rendering="crispEdges"/>
<circle cx="840.8" cy="397.8" r="1.3" fill="#fff" stroke="#000" stroke-width="0.8"/>
<path d="M1.2,5.6C1.7,2.5 3.7,1 6.8,1C10.4,1 12.6,2.8 12.6,6C12.6,8 12,9.4 10.8,11.2L1.3,26.3H13.7" transform="translate(665.2,736.6)" stroke="#000" stroke-width="1.9" stroke-linejoin="round" stroke-linecap="butt"/>
<path d="M0.3,1H6.4C9.7,1 11.2,2.6 11.2,5.6V8.4C11.2,11.4 9.7,12.9 6.4,12.9H4.1M6.4,12.9C10.2,12.9 12.1,14.7 12.1,18V21.4C12.1,24.7 10.2,26.4 6.4,26.4H0.2" transform="translate(688,736.6)" stroke="#000" stroke-width="1.9" stroke-linejoin="round" stroke-linecap="butt"/>
<path d="M665.6,769L710.6,769" stroke="#000" stroke-width="1" stroke-linecap="butt" shape-rendering="crispEdges"/>
<path d="M710.6,769L848,443.7" stroke="#000" stroke-width="1" stroke-linecap="butt" shape-rendering="crispEdges"/>
<circle cx="848" cy="443.7" r="1.3" fill="#fff" stroke="#000" stroke-width="0.8"/>
<path d="M0.7,8.2L6.5,1.2V27.4" transform="translate(738.9,736.6)" stroke="#000" stroke-width="1.9" stroke-linejoin="round" stroke-linecap="butt"/>
<path d="M1.2,5.6C1.7,2.5 3.7,1 6.8,1C10.4,1 12.6,2.8 12.6,6C12.6,8 12,9.4 10.8,11.2L1.3,26.3H13.7" transform="translate(754.7,736.6)" stroke="#000" stroke-width="1.9" stroke-linejoin="round" stroke-linecap="butt"/>
<path d="M740,769L778.75,769" stroke="#000" stroke-width="1" stroke-linecap="butt" shape-rendering="crispEdges"/>
<path d="M778.75,769L895.9,658" stroke="#000" stroke-width="1" stroke-linecap="butt" shape-rendering="crispEdges"/>
<circle cx="895.9" cy="658" r="1.3" fill="#fff" stroke="#000" stroke-width="0.8"/>
<path d="M1.2,5.6C1.7,2.5 3.7,1 6.8,1C10.4,1 12.6,2.8 12.6,6C12.6,8 12,9.4 10.8,11.2L1.3,26.3H13.7" transform="translate(823.2,736.6)" stroke="#000" stroke-width="1.9" stroke-linejoin="round" stroke-linecap="butt"/>
<path d="M823.1,769L846.9,769" stroke="#000" stroke-width="1" stroke-linecap="butt" shape-rendering="crispEdges"/>
<path d="M846.9,769L924.7,621.8" stroke="#000" stroke-width="1" stroke-linecap="butt" shape-rendering="crispEdges"/>
<circle cx="924.7" cy="621.8" r="1.3" fill="#fff" stroke="#000" stroke-width="0.8"/>
<path d="M0.7,8.2L6.5,1.2V27.4" transform="translate(875.7,736.6)" stroke="#000" stroke-width="1.9" stroke-linejoin="round" stroke-linecap="butt"/>
<path d="M0.3,1H6.4C9.7,1 11.2,2.6 11.2,5.6V8.4C11.2,11.4 9.7,12.9 6.4,12.9H4.1M6.4,12.9C10.2,12.9 12.1,14.7 12.1,18V21.4C12.1,24.7 10.2,26.4 6.4,26.4H0.2" transform="translate(892.4,736.6)" stroke="#000" stroke-width="1.9" stroke-linejoin="round" stroke-linecap="butt"/>
<path d="M876.25,769L914.75,769" stroke="#000" stroke-width="1" stroke-linecap="butt" shape-rendering="crispEdges"/>
<path d="M914.75,769L941.3,615" stroke="#000" stroke-width="1" stroke-linecap="butt" shape-rendering="crispEdges"/>
<circle cx="941.3" cy="615" r="1.3" fill="#fff" stroke="#000" stroke-width="0.8"/>
<path d="M1.2,5.6C1.7,2.5 3.7,1 6.8,1C10.4,1 12.6,2.8 12.6,6C12.6,8 12,9.4 10.8,11.2L1.3,26.3H13.7" transform="translate(1054.4,736.6)" stroke="#000" stroke-width="1.9" stroke-linejoin="round" stroke-linecap="butt"/>
<path d="M1.2,5.6C1.7,2.5 3.7,1 6.8,1C10.4,1 12.6,2.8 12.6,6C12.6,8 12,9.4 10.8,11.2L1.3,26.3H13.7" transform="translate(1075.9,736.6)" stroke="#000" stroke-width="1.9" stroke-linejoin="round" stroke-linecap="butt"/>
<path d="M1050.6,769L1095.9,769" stroke="#000" stroke-width="1" stroke-linecap="butt" shape-rendering="crispEdges"/>
<path d="M1050.6,769L931.7,453" stroke="#000" stroke-width="1" stroke-linecap="butt" shape-rendering="crispEdges"/>
<circle cx="931.7" cy="453" r="1.3" fill="#fff" stroke="#000" stroke-width="0.8"/>
<path d="M1.2,5.6C1.7,2.5 3.7,1 6.8,1C10.4,1 12.6,2.8 12.6,6C12.6,8 12,9.4 10.8,11.2L1.3,26.3H13.7" transform="translate(1121.9,736.6)" stroke="#000" stroke-width="1.9" stroke-linejoin="round" stroke-linecap="butt"/>
<path d="M0.7,8.2L6.5,1.2V27.4" transform="translate(1144,736.6)" stroke="#000" stroke-width="1.9" stroke-linejoin="round" stroke-linecap="butt"/>
<path d="M1118.1,769L1158.1,769" stroke="#000" stroke-width="1" stroke-linecap="butt" shape-rendering="crispEdges"/>
<path d="M1118.1,769L1016.7,464" stroke="#000" stroke-width="1" stroke-linecap="butt" shape-rendering="crispEdges"/>
<circle cx="1016.7" cy="464" r="1.3" fill="#fff" stroke="#000" stroke-width="0.8"/>
<path d="M0.7,8.2L6.5,1.2V27.4" transform="translate(1189.4,736.6)" stroke="#000" stroke-width="1.9" stroke-linejoin="round" stroke-linecap="butt"/>
<path d="M1,4.6V1H12.5L6.9,27.4" transform="translate(1205.8,736.6)" stroke="#000" stroke-width="1.9" stroke-linejoin="round" stroke-linecap="butt"/>
<path d="M1187.25,769L1225.9,769" stroke="#000" stroke-width="1" stroke-linecap="butt" shape-rendering="crispEdges"/>
<path d="M1187.25,769L1068.3,427.3" stroke="#000" stroke-width="1" stroke-linecap="butt" shape-rendering="crispEdges"/>
<circle cx="1068.3" cy="427.3" r="1.3" fill="#fff" stroke="#000" stroke-width="0.8"/>
<path d="M0.7,8.2L6.5,1.2V27.4" transform="translate(1257.5,736.6)" stroke="#000" stroke-width="1.9" stroke-linejoin="round" stroke-linecap="butt"/>
<path d="M13.1,14.8H6.2C2.6,14.8 1,13.2 1,10V6C1,2.5 3,1 7,1C11,1 13.1,2.5 13.1,6V13.5C13.1,20 10,24.6 4.4,27" transform="translate(1274.2,736.6)" stroke="#000" stroke-width="1.9" stroke-linejoin="round" stroke-linecap="butt"/>
<path d="M1255,769L1294,769" stroke="#000" stroke-width="1" stroke-linecap="butt" shape-rendering="crispEdges"/>
<path d="M1255,769L1103.3,475.3" stroke="#000" stroke-width="1" stroke-linecap="butt" shape-rendering="crispEdges"/>
<circle cx="1103.3" cy="475.3" r="1.3" fill="#fff" stroke="#000" stroke-width="0.8"/>
<path d="M0.7,8.2L6.5,1.2V27.4" transform="translate(1325.6,736.6)" stroke="#000" stroke-width="1.9" stroke-linejoin="round" stroke-linecap="butt"/>
<path d="M6.6,0.3L1.1,21H15.6M10.4,12V27.4" transform="translate(1342.5,736.6)" stroke="#000" stroke-width="1.9" stroke-linejoin="round" stroke-linecap="butt"/>
<path d="M1323.1,769L1365,769" stroke="#000" stroke-width="1" stroke-linecap="butt" shape-rendering="crispEdges"/>
<path d="M1323.1,769L1208.3,572.3" stroke="#000" stroke-width="1" stroke-linecap="butt" shape-rendering="crispEdges"/>
<circle cx="1208.3" cy="572.3" r="1.3" fill="#fff" stroke="#000" stroke-width="0.8"/>
<path d="M0.7,8.2L6.5,1.2V27.4" transform="translate(1436.9,166.9)" stroke="#000" stroke-width="1.9" stroke-linejoin="round" stroke-linecap="butt"/>
<path d="M11.3,1H1V12.5H6.2C9.3,12.5 10.7,14.2 10.7,17.3V21.6C10.7,24.8 9.3,26.4 6.2,26.4H0.1" transform="translate(1454,166.9)" stroke="#000" stroke-width="1.9" stroke-linejoin="round" stroke-linecap="butt"/>
<path d="M1433,198.1L1473,198.1" stroke="#000" stroke-width="1" stroke-linecap="butt" shape-rendering="crispEdges"/>
<path d="M1433,198.1L1208.3,327.3" stroke="#000" stroke-width="1" stroke-linecap="butt" shape-rendering="crispEdges"/>
<circle cx="1208.3" cy="327.3" r="1.3" fill="#fff" stroke="#000" stroke-width="0.8"/>
<path d="M1.2,5.6C1.7,2.5 3.7,1 6.8,1C10.4,1 12.6,2.8 12.6,6C12.6,8 12,9.4 10.8,11.2L1.3,26.3H13.7" transform="translate(1437.5,232.5)" stroke="#000" stroke-width="1.9" stroke-linejoin="round" stroke-linecap="butt"/>
<path d="M6.6,0.3L1.1,21H15.6M10.4,12V27.4" transform="translate(1459.4,232.5)" stroke="#000" stroke-width="1.9" stroke-linejoin="round" stroke-linecap="butt"/>
<path d="M1432.5,265.25L1482,265.25" stroke="#000" stroke-width="1" stroke-linecap="butt" shape-rendering="crispEdges"/>
<path d="M1432.5,265.25L1130.8,387.3" stroke="#000" stroke-width="1" stroke-linecap="butt" shape-rendering="crispEdges"/>
<circle cx="1130.8" cy="387.3" r="1.3" fill="#fff" stroke="#000" stroke-width="0.8"/>
<path d="M11.3,1H1V12.5H6.2C9.3,12.5 10.7,14.2 10.7,17.3V21.6C10.7,24.8 9.3,26.4 6.2,26.4H0.1" transform="translate(1438.7,299.3)" stroke="#000" stroke-width="1.9" stroke-linejoin="round" stroke-linecap="butt"/>
<path d="M1432,332.2L1457.8,332.2" stroke="#000" stroke-width="1" stroke-linecap="butt" shape-rendering="crispEdges"/>
<path d="M1432,332.2L1093.3,439.3" stroke="#000" stroke-width="1" stroke-linecap="butt" shape-rendering="crispEdges"/>
<circle cx="1093.3" cy="439.3" r="1.3" fill="#fff" stroke="#000" stroke-width="0.8"/>
<path d="M1.2,5.6C1.7,2.5 3.7,1 6.8,1C10.4,1 12.6,2.8 12.6,6C12.6,8 12,9.4 10.8,11.2L1.3,26.3H13.7" transform="translate(1437.25,366.5)" stroke="#000" stroke-width="1.9" stroke-linejoin="round" stroke-linecap="butt"/>
<path d="M11.3,1H1V12.5H6.2C9.3,12.5 10.7,14.2 10.7,17.3V21.6C10.7,24.8 9.3,26.4 6.2,26.4H0.1" transform="translate(1460.25,366.5)" stroke="#000" stroke-width="1.9" stroke-linejoin="round" stroke-linecap="butt"/>
<path d="M1433,398.4L1479,398.4" stroke="#000" stroke-width="1" stroke-linecap="butt" shape-rendering="crispEdges"/>
<path d="M1433,398.4L1258.75,403.25" stroke="#000" stroke-width="1" stroke-linecap="butt" shape-rendering="crispEdges"/>
<circle cx="1258.75" cy="403.25" r="1.3" fill="#fff" stroke="#000" stroke-width="0.8"/>
<path d="M0.7,8.2L6.5,1.2V27.4" transform="translate(1437,500)" stroke="#000" stroke-width="1.9" stroke-linejoin="round" stroke-linecap="butt"/>
<path d="M6.6,0.3L1.1,21H15.6M10.4,12V27.4" transform="translate(1453.75,500)" stroke="#000" stroke-width="1.9" stroke-linejoin="round" stroke-linecap="butt"/>
<path d="M1433,532.5L1475.75,532.5" stroke="#000" stroke-width="1" stroke-linecap="butt" shape-rendering="crispEdges"/>
<path d="M1433,532.5L1208.75,408.75" stroke="#000" stroke-width="1" stroke-linecap="butt" shape-rendering="crispEdges"/>
<circle cx="1208.75" cy="408.75" r="1.3" fill="#fff" stroke="#000" stroke-width="0.8"/>
<path d="M0.3,1H6.4C9.7,1 11.2,2.6 11.2,5.6V8.4C11.2,11.4 9.7,12.9 6.4,12.9H4.1M6.4,12.9C10.2,12.9 12.1,14.7 12.1,18V21.4C12.1,24.7 10.2,26.4 6.4,26.4H0.2" transform="translate(1438.1,633.2)" stroke="#000" stroke-width="1.9" stroke-linejoin="round" stroke-linecap="butt"/>
<path d="M1433,665.4L1458,665.4" stroke="#000" stroke-width="1" stroke-linecap="butt" shape-rendering="crispEdges"/>
<path d="M1433,665.4L1179.7,457.3" stroke="#000" stroke-width="1" stroke-linecap="butt" shape-rendering="crispEdges"/>
<circle cx="1179.7" cy="457.3" r="1.3" fill="#fff" stroke="#000" stroke-width="0.8"/>
<path d="M0.7,8.2L6.5,1.2V27.4" transform="translate(1436.25,699.9)" stroke="#000" stroke-width="1.9" stroke-linejoin="round" stroke-linecap="butt"/>
<path d="M11.3,1H1V12.5H6.2C9.3,12.5 10.7,14.2 10.7,17.3V21.6C10.7,24.8 9.3,26.4 6.2,26.4H0.1" transform="translate(1454,699.9)" stroke="#000" stroke-width="1.9" stroke-linejoin="round" stroke-linecap="butt"/>
<path d="M1433.1,732.4L1472.75,732.4" stroke="#000" stroke-width="1" stroke-linecap="butt" shape-rendering="crispEdges"/>
<path d="M1433.1,732.4L1208.3,491.5" stroke="#000" stroke-width="1" stroke-linecap="butt" shape-rendering="crispEdges"/>
<circle cx="1208.3" cy="491.5" r="1.3" fill="#fff" stroke="#000" stroke-width="0.8"/>
</g></svg></body></html>
